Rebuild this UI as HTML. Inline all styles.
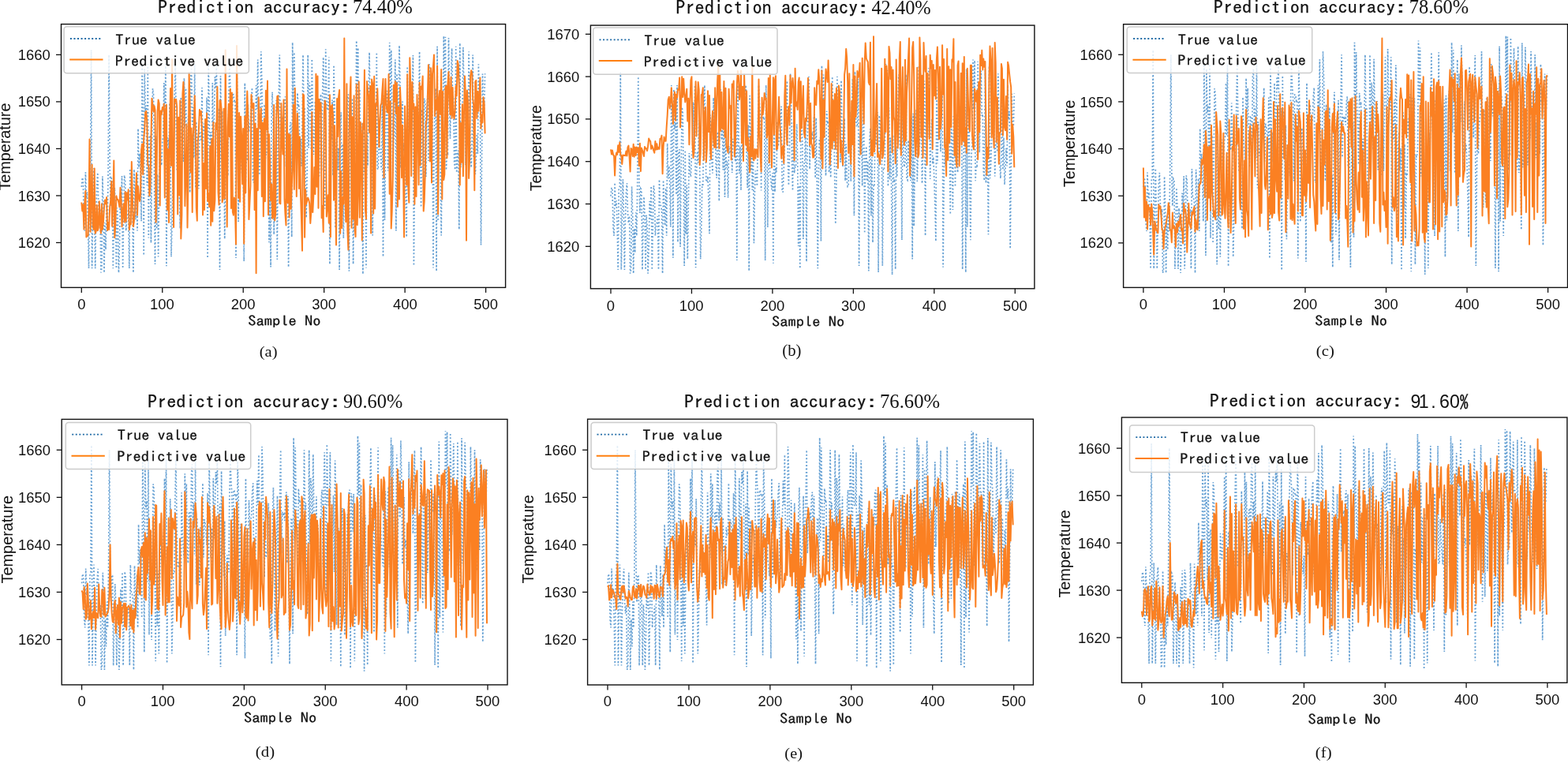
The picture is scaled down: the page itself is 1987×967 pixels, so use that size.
<!DOCTYPE html>
<html><head><meta charset="utf-8"><title>Prediction accuracy</title>
<style>html,body{margin:0;padding:0;background:#fff;overflow:hidden}svg{display:block}</style></head>
<body><svg width="1987" height="967" viewBox="0 0 1987 967">
<rect x="0" y="0" width="1987" height="967" fill="#fff"/>
<clipPath id="clipa"><rect x="77.5" y="30.6" width="563.1" height="333.79999999999995"/></clipPath>
<g clip-path="url(#clipa)">
<polyline points="103.3,236.9 104.3,225.0 105.3,228.6 106.4,282.0 107.4,292.6 108.4,218.3 109.4,251.5 110.5,243.3 111.5,282.9 112.5,340.2 113.5,226.9 114.6,224.8 115.6,63.4 116.6,340.2 117.6,270.7 118.7,213.3 119.7,265.4 120.7,340.2 121.7,271.0 122.8,232.0 123.8,218.7 124.8,260.3 125.8,274.8 126.9,264.5 127.9,345.6 128.9,340.2 129.9,223.4 131.0,263.5 132.0,345.6 133.0,282.3 134.0,316.3 135.1,259.9 136.1,292.6 137.1,214.9 138.1,69.4 139.2,215.7 140.2,260.7 141.2,226.2 142.2,228.0 143.3,340.2 144.3,278.2 145.3,237.8 146.3,261.8 147.4,340.2 148.4,263.4 149.4,279.0 150.4,345.6 151.5,308.1 152.5,244.2 153.5,268.9 154.5,222.9 155.6,340.2 156.6,281.7 157.6,222.2 158.6,229.2 159.7,292.6 160.7,277.2 161.7,274.6 162.7,265.0 163.8,340.2 164.8,213.7 165.8,249.6 166.8,250.5 167.8,257.0 168.9,345.6 169.9,214.7 170.9,248.1 171.9,278.3 173.0,225.8 174.0,292.6 175.0,163.0 176.0,212.5 177.1,194.5 178.1,221.1 179.1,280.3 180.1,81.3 181.2,148.6 182.2,323.6 183.2,87.3 184.2,142.7 185.3,133.4 186.3,235.0 187.3,81.3 188.3,301.5 189.4,177.1 190.4,171.3 191.4,308.0 192.4,200.9 193.5,112.1 194.5,119.4 195.5,216.9 196.5,334.9 197.6,172.6 198.6,290.4 199.6,221.2 200.6,325.4 201.7,241.3 202.7,176.6 203.7,203.3 204.7,209.8 205.8,178.8 206.8,172.7 207.8,105.1 208.8,171.8 209.9,81.3 210.9,337.3 211.9,207.9 212.9,174.2 214.0,190.4 215.0,130.5 216.0,193.9 217.0,325.4 218.1,281.4 219.1,220.2 220.1,223.3 221.1,130.0 222.2,81.3 223.2,156.0 224.2,216.7 225.2,217.0 226.3,209.3 227.3,244.8 228.3,289.6 229.3,123.0 230.4,176.2 231.4,192.2 232.4,204.9 233.4,99.1 234.4,161.0 235.5,111.7 236.5,192.2 237.5,211.8 238.5,147.6 239.6,146.7 240.6,244.0 241.6,98.9 242.6,87.3 243.7,158.1 244.7,136.1 245.7,200.4 246.7,81.3 247.8,238.3 248.8,154.2 249.8,197.5 250.8,188.5 251.9,239.3 252.9,166.7 253.9,176.5 254.9,176.9 256.0,111.1 257.0,204.4 258.0,156.6 259.0,161.7 260.1,170.6 261.1,188.9 262.1,123.5 263.1,327.1 264.2,81.3 265.2,144.3 266.2,205.2 267.2,167.4 268.3,228.7 269.3,105.1 270.3,180.4 271.3,152.3 272.4,97.2 273.4,112.1 274.4,81.3 275.4,189.5 276.5,225.2 277.5,137.1 278.5,342.0 279.5,95.9 280.6,201.6 281.6,140.8 282.6,228.5 283.6,158.5 284.7,302.9 285.7,232.0 286.7,201.4 287.7,210.5 288.8,223.0 289.8,130.1 290.8,81.3 291.8,109.3 292.9,125.2 293.9,229.2 294.9,120.2 295.9,119.8 296.9,127.6 298.0,126.5 299.0,327.1 300.0,81.3 301.0,131.1 302.1,280.9 303.1,182.9 304.1,162.1 305.1,205.4 306.2,214.3 307.2,227.8 308.2,204.5 309.2,331.3 310.3,105.1 311.3,231.1 312.3,197.0 313.3,203.7 314.4,132.5 315.4,167.2 316.4,157.4 317.4,152.2 318.5,122.9 319.5,111.1 320.5,228.3 321.5,231.6 322.6,197.7 323.6,161.8 324.6,108.1 325.6,138.4 326.7,75.4 327.7,186.1 328.7,221.9 329.7,183.8 330.8,65.2 331.8,102.1 332.8,189.0 333.8,229.3 334.9,132.2 335.9,204.8 336.9,196.0 337.9,196.4 339.0,136.0 340.0,190.4 341.0,307.3 342.0,221.9 343.1,338.5 344.1,151.7 345.1,116.5 346.1,162.6 347.2,297.1 348.2,191.6 349.2,189.6 350.2,127.0 351.3,328.9 352.3,161.1 353.3,123.9 354.3,69.4 355.4,199.2 356.4,147.0 357.4,151.9 358.4,149.9 359.5,158.3 360.5,128.8 361.5,122.3 362.5,211.4 363.5,127.3 364.6,217.8 365.6,338.5 366.6,207.5 367.6,156.2 368.7,154.9 369.7,300.4 370.7,53.9 371.7,183.7 372.8,66.4 373.8,135.3 374.8,162.7 375.8,208.4 376.9,117.7 377.9,133.3 378.9,131.7 379.9,204.1 381.0,175.8 382.0,210.9 383.0,155.5 384.0,69.4 385.1,144.7 386.1,135.9 387.1,218.8 388.1,276.0 389.2,216.7 390.2,69.4 391.2,187.5 392.2,104.6 393.3,118.0 394.3,189.8 395.3,74.8 396.3,146.0 397.4,196.0 398.4,167.0 399.4,127.9 400.4,215.4 401.5,163.9 402.5,215.8 403.5,223.7 404.5,222.7 405.6,130.4 406.6,119.3 407.6,216.4 408.6,122.1 409.7,72.4 410.7,125.9 411.7,264.4 412.7,62.3 413.8,124.7 414.8,139.9 415.8,137.5 416.8,72.4 417.9,334.9 418.9,149.2 419.9,177.4 420.9,126.4 422.0,222.5 423.0,82.5 424.0,132.0 425.0,289.0 426.0,187.7 427.1,167.2 428.1,216.0 429.1,187.5 430.1,342.0 431.2,160.3 432.2,142.4 433.2,264.3 434.2,182.4 435.3,302.1 436.3,220.7 437.3,222.2 438.3,150.4 439.4,165.4 440.4,121.6 441.4,119.5 442.4,343.8 443.5,123.9 444.5,132.7 445.5,171.9 446.5,124.5 447.6,334.9 448.6,198.1 449.6,199.4 450.6,185.9 451.7,51.5 452.7,126.4 453.7,60.5 454.7,223.3 455.8,112.8 456.8,213.5 457.8,155.2 458.8,214.1 459.9,347.4 460.9,151.1 461.9,217.9 462.9,213.2 464.0,339.6 465.0,167.6 466.0,209.9 467.0,124.0 468.1,66.4 469.1,150.9 470.1,172.4 471.1,159.8 472.2,298.6 473.2,126.1 474.2,182.3 475.2,196.2 476.3,189.4 477.3,66.4 478.3,213.5 479.3,214.8 480.4,158.7 481.4,186.4 482.4,199.6 483.4,215.5 484.5,126.5 485.5,325.4 486.5,121.0 487.5,279.0 488.5,196.6 489.6,123.1 490.6,115.2 491.6,216.6 492.6,180.1 493.7,53.9 494.7,167.8 495.7,63.4 496.7,134.5 497.8,219.3 498.8,179.3 499.8,170.5 500.8,75.4 501.9,292.6 502.9,93.3 503.9,119.6 504.9,154.3 506.0,57.5 507.0,106.5 508.0,213.0 509.0,157.6 510.1,128.6 511.1,192.0 512.1,182.2 513.1,212.4 514.2,252.0 515.2,300.4 516.2,84.3 517.2,191.3 518.3,144.4 519.3,103.2 520.3,115.3 521.3,174.5 522.4,119.3 523.4,70.0 524.4,336.7 525.4,223.3 526.5,141.2 527.5,194.9 528.5,157.0 529.5,147.1 530.6,140.1 531.6,65.2 532.6,179.9 533.6,262.6 534.7,138.8 535.7,155.0 536.7,256.2 537.7,124.6 538.8,130.3 539.8,223.9 540.8,142.7 541.8,121.2 542.9,203.9 543.9,81.3 544.9,138.8 545.9,147.4 547.0,124.5 548.0,149.9 549.0,339.6 550.0,192.7 551.1,138.6 552.1,112.0 553.1,343.8 554.1,58.7 555.1,280.1 556.2,120.8 557.2,123.9 558.2,223.6 559.2,298.6 560.3,178.3 561.3,164.5 562.3,45.6 563.3,115.3 564.4,46.8 565.4,215.6 566.4,193.4 567.4,194.6 568.5,48.0 569.5,116.4 570.5,175.8 571.5,108.7 572.6,61.1 573.6,124.4 574.6,122.0 575.6,204.7 576.7,215.2 577.7,58.7 578.7,218.9 579.7,199.2 580.8,190.6 581.8,290.8 582.8,54.5 583.8,212.1 584.9,194.9 585.9,157.7 586.9,59.9 587.9,111.0 589.0,119.1 590.0,209.3 591.0,168.5 592.0,154.4 593.1,175.1 594.1,65.2 595.1,137.2 596.1,185.7 597.2,212.3 598.2,177.4 599.2,69.4 600.2,200.1 601.3,155.0 602.3,221.0 603.3,201.3 604.3,169.7 605.4,194.9 606.4,81.3 607.4,130.2 608.4,118.0 609.5,310.7 610.5,206.4 611.5,93.4 612.5,141.5 613.6,137.3 614.6,93.2" fill="none" stroke="#3f88c8" stroke-opacity="0.8" stroke-width="1.7" stroke-dasharray="1.8 2.6" stroke-linecap="butt"/>
<polyline points="103.3,256.5 104.3,267.4 105.3,259.2 106.4,290.6 107.4,255.0 108.4,242.0 109.4,300.5 110.5,298.9 111.5,298.5 112.5,267.9 113.5,176.5 114.6,293.8 115.6,250.1 116.6,208.7 117.6,285.1 118.7,291.0 119.7,213.6 120.7,295.7 121.7,293.2 122.8,260.0 123.8,292.3 124.8,288.8 125.8,255.3 126.9,284.4 127.9,295.6 128.9,258.5 129.9,291.0 131.0,280.5 132.0,262.1 133.0,253.4 134.0,258.3 135.1,250.1 136.1,291.9 137.1,282.1 138.1,291.0 139.2,261.6 140.2,254.7 141.2,229.8 142.2,286.8 143.3,250.6 144.3,203.6 145.3,301.2 146.3,284.6 147.4,248.3 148.4,253.0 149.4,252.8 150.4,256.5 151.5,262.5 152.5,237.7 153.5,252.9 154.5,287.2 155.6,268.4 156.6,258.3 157.6,281.7 158.6,243.3 159.7,280.8 160.7,244.3 161.7,253.4 162.7,240.3 163.8,291.2 164.8,283.9 165.8,284.2 166.8,204.9 167.8,247.4 168.9,287.0 169.9,280.0 170.9,268.0 171.9,244.1 173.0,219.2 174.0,272.8 175.0,236.0 176.0,249.1 177.1,255.1 178.1,244.5 179.1,190.2 180.1,182.5 181.2,220.9 182.2,176.2 183.2,163.9 184.2,142.3 185.3,140.7 186.3,154.6 187.3,208.8 188.3,210.9 189.4,248.0 190.4,235.0 191.4,179.4 192.4,124.8 193.5,132.7 194.5,141.3 195.5,134.2 196.5,139.5 197.6,281.8 198.6,214.8 199.6,141.8 200.6,126.4 201.7,130.9 202.7,260.4 203.7,140.5 204.7,145.3 205.8,136.1 206.8,138.9 207.8,131.7 208.8,250.5 209.9,139.2 210.9,132.8 211.9,266.1 212.9,188.9 214.0,282.0 215.0,178.7 216.0,111.9 217.0,210.0 218.1,75.3 219.1,226.9 220.1,288.1 221.1,125.5 222.2,128.7 223.2,125.9 224.2,135.8 225.2,271.6 226.3,148.7 227.3,247.6 228.3,127.4 229.3,302.4 230.4,272.0 231.4,118.8 232.4,103.9 233.4,128.7 234.4,261.1 235.5,221.7 236.5,157.5 237.5,288.6 238.5,229.1 239.6,91.9 240.6,130.1 241.6,218.3 242.6,162.5 243.7,269.0 244.7,171.7 245.7,156.9 246.7,121.3 247.8,168.2 248.8,263.5 249.8,279.8 250.8,179.5 251.9,164.3 252.9,139.0 253.9,145.9 254.9,141.0 256.0,168.3 257.0,272.6 258.0,207.1 259.0,266.0 260.1,150.9 261.1,238.9 262.1,143.5 263.1,254.9 264.2,245.3 265.2,262.3 266.2,185.3 267.2,285.8 268.3,176.1 269.3,280.8 270.3,154.9 271.3,267.2 272.4,253.5 273.4,156.0 274.4,164.0 275.4,109.9 276.5,243.9 277.5,259.6 278.5,127.3 279.5,127.4 280.6,137.9 281.6,256.4 282.6,251.4 283.6,137.7 284.7,251.7 285.7,63.4 286.7,188.8 287.7,287.4 288.8,161.4 289.8,131.7 290.8,173.2 291.8,112.8 292.9,264.1 293.9,117.5 294.9,268.8 295.9,272.7 296.9,250.4 298.0,266.6 299.0,309.6 300.0,58.0 301.0,159.8 302.1,251.0 303.1,143.1 304.1,255.7 305.1,147.7 306.2,174.1 307.2,233.2 308.2,163.1 309.2,308.7 310.3,147.6 311.3,244.5 312.3,144.4 313.3,115.5 314.4,150.8 315.4,278.1 316.4,257.2 317.4,235.5 318.5,120.1 319.5,132.5 320.5,137.4 321.5,130.9 322.6,266.0 323.6,156.7 324.6,346.2 325.6,162.9 326.7,241.3 327.7,123.4 328.7,158.3 329.7,163.1 330.8,137.2 331.8,249.1 332.8,155.4 333.8,274.3 334.9,150.3 335.9,255.3 336.9,114.8 337.9,163.9 339.0,102.5 340.0,272.3 341.0,170.3 342.0,203.6 343.1,254.2 344.1,233.4 345.1,276.7 346.1,275.7 347.2,133.0 348.2,279.4 349.2,271.4 350.2,152.4 351.3,122.0 352.3,121.4 353.3,165.6 354.3,257.2 355.4,258.3 356.4,131.1 357.4,177.0 358.4,195.6 359.5,126.5 360.5,252.4 361.5,271.6 362.5,285.4 363.5,87.5 364.6,256.9 365.6,169.6 366.6,275.6 367.6,170.4 368.7,264.8 369.7,237.3 370.7,211.0 371.7,132.9 372.8,239.9 373.8,111.8 374.8,169.3 375.8,248.9 376.9,143.7 377.9,171.9 378.9,238.9 379.9,173.3 381.0,245.7 382.0,279.0 383.0,317.8 384.0,119.3 385.1,121.1 386.1,300.7 387.1,240.7 388.1,258.8 389.2,254.0 390.2,250.6 391.2,253.1 392.2,257.7 393.3,283.0 394.3,268.6 395.3,142.0 396.3,269.0 397.4,246.5 398.4,212.0 399.4,246.0 400.4,93.7 401.5,236.7 402.5,96.4 403.5,263.8 404.5,125.8 405.6,140.4 406.6,130.6 407.6,276.3 408.6,261.0 409.7,293.9 410.7,144.9 411.7,127.4 412.7,132.1 413.8,274.5 414.8,261.7 415.8,247.3 416.8,282.8 417.9,120.3 418.9,300.3 419.9,134.7 420.9,132.7 422.0,146.0 423.0,253.8 424.0,159.2 425.0,234.9 426.0,310.5 427.1,125.0 428.1,173.0 429.1,122.5 430.1,114.1 431.2,295.8 432.2,217.2 433.2,289.1 434.2,250.2 435.3,258.4 436.3,48.6 437.3,250.0 438.3,281.3 439.4,106.3 440.4,293.1 441.4,316.6 442.4,177.0 443.5,122.1 444.5,97.6 445.5,288.7 446.5,148.2 447.6,277.7 448.6,121.3 449.6,291.2 450.6,300.1 451.7,106.8 452.7,285.1 453.7,245.8 454.7,103.5 455.8,275.8 456.8,154.9 457.8,170.5 458.8,304.5 459.9,156.5 460.9,162.9 461.9,88.8 462.9,265.2 464.0,277.5 465.0,103.1 466.0,114.3 467.0,121.5 468.1,168.0 469.1,109.0 470.1,295.4 471.1,100.5 472.2,106.7 473.2,270.5 474.2,96.8 475.2,264.6 476.3,131.2 477.3,133.0 478.3,112.3 479.3,146.7 480.4,186.2 481.4,155.8 482.4,133.3 483.4,131.2 484.5,113.2 485.5,100.1 486.5,225.3 487.5,134.9 488.5,99.9 489.6,133.5 490.6,141.8 491.6,142.6 492.6,93.9 493.7,245.8 494.7,128.6 495.7,289.5 496.7,268.8 497.8,224.3 498.8,107.8 499.8,129.1 500.8,103.0 501.9,144.1 502.9,105.1 503.9,262.0 504.9,135.8 506.0,252.5 507.0,110.7 508.0,134.6 509.0,225.2 510.1,158.8 511.1,227.1 512.1,300.6 513.1,134.6 514.2,191.0 515.2,234.3 516.2,94.3 517.2,235.4 518.3,256.8 519.3,73.2 520.3,108.6 521.3,223.0 522.4,104.1 523.4,138.4 524.4,131.5 525.4,258.8 526.5,135.5 527.5,249.0 528.5,120.0 529.5,153.8 530.6,234.3 531.6,104.7 532.6,209.4 533.6,109.4 534.7,113.0 535.7,96.4 536.7,267.6 537.7,254.9 538.8,220.0 539.8,157.4 540.8,150.1 541.8,125.3 542.9,82.3 543.9,113.8 544.9,204.4 545.9,86.2 547.0,231.4 548.0,93.9 549.0,83.0 550.0,69.5 551.1,147.1 552.1,126.8 553.1,139.0 554.1,83.4 555.1,271.2 556.2,124.7 557.2,115.1 558.2,145.0 559.2,88.0 560.3,252.6 561.3,116.1 562.3,227.9 563.3,221.2 564.4,111.1 565.4,108.7 566.4,200.3 567.4,107.0 568.5,91.1 569.5,126.0 570.5,145.2 571.5,97.7 572.6,149.8 573.6,110.9 574.6,146.6 575.6,150.6 576.7,139.1 577.7,108.9 578.7,121.5 579.7,77.0 580.8,81.5 581.8,110.5 582.8,234.6 583.8,156.0 584.9,205.7 585.9,132.3 586.9,223.3 587.9,147.5 589.0,96.6 590.0,122.1 591.0,304.7 592.0,114.6 593.1,129.7 594.1,225.9 595.1,201.6 596.1,96.2 597.2,89.3 598.2,93.0 599.2,125.2 600.2,133.0 601.3,241.2 602.3,103.6 603.3,101.9 604.3,149.9 605.4,115.9 606.4,140.8 607.4,122.5 608.4,98.4 609.5,162.8 610.5,145.6 611.5,155.3 612.5,123.3 613.6,130.3 614.6,169.4" fill="none" stroke="#fb8022" stroke-width="2.0" stroke-linejoin="round"/>
</g>
<rect x="77.5" y="30.6" width="563.1" height="333.79999999999995" fill="none" stroke="#111" stroke-width="1.4"/>
<line x1="103.30" y1="364.4" x2="103.30" y2="370.90" stroke="#111" stroke-width="1.3"/>
<text x="98.14" y="391.70" font-family="'Liberation Sans',sans-serif" font-size="19.00" textLength="10.25" lengthAdjust="spacingAndGlyphs" fill="#111">0</text>
<line x1="205.76" y1="364.4" x2="205.76" y2="370.90" stroke="#111" stroke-width="1.3"/>
<text x="190.00" y="391.70" font-family="'Liberation Sans',sans-serif" font-size="19.00" textLength="30.75" lengthAdjust="spacingAndGlyphs" fill="#111">100</text>
<line x1="308.22" y1="364.4" x2="308.22" y2="370.90" stroke="#111" stroke-width="1.3"/>
<text x="292.74" y="391.70" font-family="'Liberation Sans',sans-serif" font-size="19.00" textLength="30.75" lengthAdjust="spacingAndGlyphs" fill="#111">200</text>
<line x1="410.68" y1="364.4" x2="410.68" y2="370.90" stroke="#111" stroke-width="1.3"/>
<text x="395.29" y="391.70" font-family="'Liberation Sans',sans-serif" font-size="19.00" textLength="30.75" lengthAdjust="spacingAndGlyphs" fill="#111">300</text>
<line x1="513.14" y1="364.4" x2="513.14" y2="370.90" stroke="#111" stroke-width="1.3"/>
<text x="497.94" y="391.70" font-family="'Liberation Sans',sans-serif" font-size="19.00" textLength="30.75" lengthAdjust="spacingAndGlyphs" fill="#111">400</text>
<line x1="615.60" y1="364.4" x2="615.60" y2="370.90" stroke="#111" stroke-width="1.3"/>
<text x="600.21" y="391.70" font-family="'Liberation Sans',sans-serif" font-size="19.00" textLength="30.75" lengthAdjust="spacingAndGlyphs" fill="#111">500</text>
<line x1="71.00" y1="307.50" x2="77.5" y2="307.50" stroke="#111" stroke-width="1.3"/>
<text x="22.72" y="314.06" font-family="'Liberation Sans',sans-serif" font-size="19.00" textLength="41.00" lengthAdjust="spacingAndGlyphs" fill="#111">1620</text>
<line x1="71.00" y1="247.97" x2="77.5" y2="247.97" stroke="#111" stroke-width="1.3"/>
<text x="22.72" y="254.53" font-family="'Liberation Sans',sans-serif" font-size="19.00" textLength="41.00" lengthAdjust="spacingAndGlyphs" fill="#111">1630</text>
<line x1="71.00" y1="188.45" x2="77.5" y2="188.45" stroke="#111" stroke-width="1.3"/>
<text x="22.72" y="195.00" font-family="'Liberation Sans',sans-serif" font-size="19.00" textLength="41.00" lengthAdjust="spacingAndGlyphs" fill="#111">1640</text>
<line x1="71.00" y1="128.93" x2="77.5" y2="128.93" stroke="#111" stroke-width="1.3"/>
<text x="22.72" y="135.48" font-family="'Liberation Sans',sans-serif" font-size="19.00" textLength="41.00" lengthAdjust="spacingAndGlyphs" fill="#111">1650</text>
<line x1="71.00" y1="69.40" x2="77.5" y2="69.40" stroke="#111" stroke-width="1.3"/>
<text x="22.72" y="75.96" font-family="'Liberation Sans',sans-serif" font-size="19.00" textLength="41.00" lengthAdjust="spacingAndGlyphs" fill="#111">1660</text>
<rect x="81.1" y="33.7" width="234.29999999999998" height="59.099999999999994" rx="3.5" ry="3.5" fill="#fff" fill-opacity="0.8" stroke="#cccccc" stroke-width="1.5"/>
<line x1="88.90" y1="49" x2="128.10" y2="49" stroke="#1f6aa5" stroke-width="1.8" stroke-dasharray="2 2.55"/>
<line x1="88.20" y1="75.6" x2="130.50" y2="75.6" stroke="#ff7f0e" stroke-width="2"/>
<text x="146.39" y="57.00" font-family="'IPAGothic','Noto Sans CJK JP',sans-serif" font-size="18.00" textLength="101.43" lengthAdjust="spacingAndGlyphs" fill="#111" stroke="#111" stroke-width="0.25">True value</text>
<text x="145.78" y="83.50" font-family="'IPAGothic','Noto Sans CJK JP',sans-serif" font-size="18.00" textLength="162.74" lengthAdjust="spacingAndGlyphs" fill="#111" stroke="#111" stroke-width="0.25">Predictive value</text>
<text x="199.90" y="16.90" font-family="'IPAGothic','Noto Sans CJK JP',sans-serif" font-size="22.50" textLength="231.02" lengthAdjust="spacingAndGlyphs" fill="#111" stroke="#111" stroke-width="0.25">Prediction accuracy</text>
<text x="422.20" y="16.90" font-family="'IPAGothic','Noto Sans CJK JP',sans-serif" font-size="22.50" textLength="30.00" lengthAdjust="spacingAndGlyphs" fill="#111" stroke="#111" stroke-width="0.25">：</text>
<text x="446.98" y="16.60" font-family="'Liberation Serif',serif" font-size="24.80" textLength="75.84" lengthAdjust="spacingAndGlyphs" fill="#111">74.40%</text>
<text x="314.38" y="412.80" font-family="'IPAGothic','Noto Sans CJK JP',sans-serif" font-size="17.60" textLength="92.05" lengthAdjust="spacingAndGlyphs" fill="#111" stroke="#111" stroke-width="0.25">Sample No</text>
<text transform="translate(13.20,241.60) rotate(-90)" x="0" y="0" font-family="'Liberation Sans',sans-serif" font-size="19.50" textLength="111.06" lengthAdjust="spacingAndGlyphs" fill="#111">Temperature</text>
<text x="328.78" y="451.60" font-family="'Liberation Serif',serif" font-size="19.70" textLength="22.74" lengthAdjust="spacingAndGlyphs" fill="#111">(a)</text>
<clipPath id="clipb"><rect x="748.4" y="32.1" width="562.5000000000001" height="333.7"/></clipPath>
<g clip-path="url(#clipb)">
<polyline points="774.0,248.5 775.0,237.7 776.0,241.0 777.1,289.2 778.1,298.8 779.1,231.6 780.1,261.7 781.2,254.3 782.2,290.1 783.2,341.9 784.2,239.4 785.3,237.6 786.3,91.7 787.3,341.9 788.3,279.0 789.4,227.2 790.4,274.2 791.4,341.9 792.4,279.3 793.5,244.0 794.5,232.0 795.5,269.6 796.5,282.7 797.6,273.5 798.6,346.7 799.6,341.9 800.6,236.3 801.7,272.5 802.7,346.7 803.7,289.5 804.7,320.3 805.8,269.3 806.8,298.8 807.8,228.6 808.8,97.1 809.9,229.4 810.9,270.0 811.9,238.9 812.9,240.5 814.0,341.9 815.0,285.8 816.0,249.3 817.0,271.0 818.1,341.9 819.1,272.5 820.1,286.5 821.1,346.7 822.2,312.8 823.2,255.1 824.2,277.4 825.2,235.9 826.3,341.9 827.3,289.0 828.3,235.2 829.3,241.5 830.4,298.8 831.4,284.9 832.4,282.5 833.4,273.9 834.5,341.9 835.5,227.5 836.5,259.9 837.5,260.8 838.5,266.7 839.6,346.7 840.6,228.4 841.6,258.6 842.6,285.9 843.7,238.5 844.7,298.8 845.7,181.7 846.7,226.5 847.8,210.2 848.8,234.2 849.8,287.7 850.8,107.9 851.9,168.7 852.9,326.8 853.9,113.2 854.9,163.3 856.0,155.0 857.0,246.8 858.0,107.9 859.0,306.9 860.1,194.5 861.1,189.2 862.1,312.7 863.1,215.9 864.2,135.7 865.2,142.3 866.2,230.4 867.2,337.0 868.3,190.4 869.3,296.9 870.3,234.3 871.3,328.4 872.4,252.5 873.4,194.0 874.4,218.1 875.4,224.0 876.5,196.0 877.5,190.5 878.5,129.4 879.5,189.6 880.6,107.9 881.6,339.2 882.6,222.3 883.6,191.8 884.7,206.4 885.7,152.3 886.7,209.6 887.7,328.4 888.8,288.7 889.8,233.4 890.8,236.2 891.8,151.9 892.9,107.9 893.9,175.3 894.9,230.2 895.9,230.5 897.0,223.5 898.0,255.6 899.0,296.2 900.0,145.5 901.1,193.6 902.1,208.1 903.1,219.6 904.1,123.9 905.1,179.9 906.2,135.3 907.2,208.1 908.2,225.8 909.2,167.8 910.3,167.0 911.3,254.9 912.3,123.7 913.3,113.2 914.4,177.3 915.4,157.4 916.4,215.5 917.4,107.9 918.5,249.7 919.5,173.8 920.5,212.9 921.5,204.8 922.6,250.7 923.6,185.0 924.6,193.9 925.6,194.2 926.7,134.8 927.7,219.1 928.7,175.9 929.7,180.5 930.8,188.6 931.8,205.1 932.8,146.0 933.8,330.1 934.9,107.9 935.9,164.8 936.9,219.9 937.9,185.6 939.0,241.1 940.0,129.4 941.0,197.4 942.0,172.1 943.1,122.2 944.1,135.7 945.1,107.9 946.1,205.7 947.2,237.9 948.2,158.3 949.2,343.5 950.2,121.1 951.3,216.6 952.3,161.7 953.3,240.9 954.3,177.6 955.4,308.2 956.4,244.0 957.4,216.4 958.4,224.6 959.5,235.9 960.5,152.0 961.5,107.9 962.5,133.2 963.6,147.5 964.6,241.5 965.6,143.0 966.6,142.7 967.6,149.7 968.7,148.7 969.7,330.1 970.7,107.9 971.7,152.9 972.8,288.2 973.8,199.7 974.8,180.9 975.8,220.1 976.9,228.0 977.9,240.3 978.9,219.2 979.9,333.8 981.0,129.4 982.0,243.2 983.0,212.4 984.0,218.5 985.1,154.1 986.1,185.5 987.1,176.6 988.1,171.9 989.2,145.4 990.2,134.8 991.2,240.7 992.2,243.7 993.3,213.0 994.3,180.6 995.3,132.0 996.3,159.4 997.4,102.5 998.4,202.6 999.4,234.9 1000.4,200.5 1001.5,93.3 1002.5,126.6 1003.5,205.2 1004.5,241.6 1005.6,153.9 1006.6,219.5 1007.6,211.5 1008.6,211.9 1009.7,157.3 1010.7,206.5 1011.7,312.1 1012.7,234.9 1013.8,340.3 1014.8,171.5 1015.8,139.6 1016.8,181.3 1017.9,302.9 1018.9,207.6 1019.9,205.7 1020.9,149.2 1022.0,331.7 1023.0,180.0 1024.0,146.3 1025.0,97.1 1026.1,214.4 1027.1,167.3 1028.1,171.7 1029.1,169.8 1030.2,177.5 1031.2,150.8 1032.2,144.9 1033.2,225.5 1034.2,149.4 1035.3,231.2 1036.3,340.3 1037.3,221.9 1038.3,175.6 1039.4,174.4 1040.4,305.8 1041.4,83.1 1042.4,200.4 1043.5,94.4 1044.5,156.7 1045.5,181.4 1046.5,222.8 1047.6,140.8 1048.6,154.8 1049.6,153.4 1050.6,218.8 1051.7,193.3 1052.7,225.0 1053.7,174.9 1054.7,97.1 1055.8,165.2 1056.8,157.2 1057.8,232.1 1058.8,283.8 1059.9,230.2 1060.9,97.1 1061.9,203.9 1062.9,129.0 1064.0,141.0 1065.0,205.9 1066.0,101.9 1067.0,166.3 1068.1,211.5 1069.1,185.4 1070.1,150.0 1071.1,229.1 1072.2,182.5 1073.2,229.4 1074.2,236.6 1075.2,235.7 1076.3,152.3 1077.3,142.2 1078.3,230.0 1079.3,144.8 1080.4,99.8 1081.4,148.2 1082.4,273.4 1083.4,90.6 1084.5,147.1 1085.5,160.8 1086.5,158.6 1087.5,99.8 1088.6,337.0 1089.6,169.2 1090.6,194.7 1091.6,148.6 1092.7,235.5 1093.7,108.9 1094.7,153.7 1095.7,295.6 1096.7,204.0 1097.8,185.5 1098.8,229.6 1099.8,203.8 1100.8,343.5 1101.9,179.3 1102.9,163.1 1103.9,273.3 1104.9,199.2 1106.0,307.5 1107.0,233.9 1108.0,235.2 1109.0,170.3 1110.1,183.9 1111.1,144.2 1112.1,142.3 1113.1,345.1 1114.2,146.3 1115.2,154.3 1116.2,189.7 1117.2,146.9 1118.3,337.0 1119.3,213.4 1120.3,214.6 1121.3,202.4 1122.4,81.0 1123.4,148.6 1124.4,89.0 1125.4,236.2 1126.5,136.3 1127.5,227.3 1128.5,174.6 1129.5,227.8 1130.6,348.3 1131.6,170.9 1132.6,231.3 1133.6,227.0 1134.7,341.4 1135.7,185.8 1136.7,224.1 1137.7,146.5 1138.8,94.4 1139.8,170.7 1140.8,190.2 1141.8,178.8 1142.9,304.2 1143.9,148.3 1144.9,199.1 1145.9,211.7 1147.0,205.6 1148.0,94.4 1149.0,227.4 1150.0,228.5 1151.1,177.8 1152.1,202.9 1153.1,214.8 1154.1,229.1 1155.2,148.7 1156.2,328.4 1157.2,143.7 1158.2,286.6 1159.2,212.1 1160.3,145.6 1161.3,138.5 1162.3,230.1 1163.3,197.1 1164.4,83.1 1165.4,186.0 1166.4,91.7 1167.4,156.0 1168.5,232.6 1169.5,196.5 1170.5,188.5 1171.5,102.5 1172.6,298.8 1173.6,118.7 1174.6,142.4 1175.6,173.9 1176.7,86.3 1177.7,130.6 1178.7,226.9 1179.7,176.8 1180.8,150.6 1181.8,207.9 1182.8,199.1 1183.8,226.4 1184.9,262.1 1185.9,305.8 1186.9,110.5 1187.9,207.3 1189.0,164.9 1190.0,127.6 1191.0,138.6 1192.0,192.1 1193.1,142.2 1194.1,97.6 1195.1,338.7 1196.1,236.2 1197.2,162.0 1198.2,210.5 1199.2,176.2 1200.2,167.3 1201.3,161.0 1202.3,93.3 1203.3,197.0 1204.3,271.7 1205.4,159.8 1206.4,174.4 1207.4,266.0 1208.4,147.0 1209.5,152.2 1210.5,236.7 1211.5,163.3 1212.5,143.9 1213.6,218.7 1214.6,107.9 1215.6,159.8 1216.6,167.6 1217.7,146.9 1218.7,169.8 1219.7,341.4 1220.7,208.5 1221.8,159.6 1222.8,135.6 1223.8,345.1 1224.8,87.4 1225.8,287.6 1226.9,143.6 1227.9,146.3 1228.9,236.4 1229.9,304.2 1231.0,195.5 1232.0,183.0 1233.0,75.6 1234.0,138.5 1235.1,76.7 1236.1,229.2 1237.1,209.2 1238.1,210.2 1239.2,77.7 1240.2,139.6 1241.2,193.3 1242.2,132.6 1243.3,89.6 1244.3,146.8 1245.3,144.6 1246.3,219.4 1247.4,228.9 1248.4,87.4 1249.4,232.2 1250.4,214.4 1251.5,206.6 1252.5,297.2 1253.5,83.7 1254.5,226.1 1255.6,210.6 1256.6,176.9 1257.6,88.5 1258.6,134.7 1259.7,142.0 1260.7,223.5 1261.7,186.7 1262.7,173.9 1263.8,192.6 1264.8,93.3 1265.8,158.4 1266.8,202.2 1267.9,226.2 1268.9,194.7 1269.9,97.1 1270.9,215.2 1272.0,174.5 1273.0,234.1 1274.0,216.3 1275.0,187.8 1276.1,210.5 1277.1,107.9 1278.1,152.0 1279.1,141.0 1280.2,315.2 1281.2,220.9 1282.2,118.8 1283.2,162.3 1284.3,158.5 1285.3,118.6" fill="none" stroke="#3f88c8" stroke-opacity="0.8" stroke-width="1.7" stroke-dasharray="1.8 2.6" stroke-linecap="butt"/>
<polyline points="774.0,189.4 775.0,195.5 776.0,190.6 777.1,196.3 778.1,197.5 779.1,222.4 780.1,199.0 781.2,193.4 782.2,196.0 783.2,184.3 784.2,192.8 785.3,180.5 786.3,195.7 787.3,197.1 788.3,208.0 789.4,196.5 790.4,197.0 791.4,197.1 792.4,197.3 793.5,191.5 794.5,197.6 795.5,186.7 796.5,184.6 797.6,198.7 798.6,217.5 799.6,187.9 800.6,189.6 801.7,197.9 802.7,182.8 803.7,198.7 804.7,186.5 805.8,196.9 806.8,186.4 807.8,192.9 808.8,187.6 809.9,210.2 810.9,181.8 811.9,216.9 812.9,187.6 814.0,190.5 815.0,193.9 816.0,198.1 817.0,185.9 818.1,188.0 819.1,188.4 820.1,191.1 821.1,185.4 822.2,175.6 823.2,177.8 824.2,179.2 825.2,188.8 826.3,184.5 827.3,187.4 828.3,190.9 829.3,193.7 830.4,179.1 831.4,189.7 832.4,182.3 833.4,189.3 834.5,186.7 835.5,188.8 836.5,175.7 837.5,176.1 838.5,171.7 839.6,220.3 840.6,186.7 841.6,173.6 842.6,178.8 843.7,178.7 844.7,160.8 845.7,146.1 846.7,126.5 847.8,122.7 848.8,137.5 849.8,129.4 850.8,111.3 851.9,130.3 852.9,157.0 853.9,136.4 854.9,116.6 856.0,152.7 857.0,119.4 858.0,123.7 859.0,113.3 860.1,113.8 861.1,98.5 862.1,161.4 863.1,134.3 864.2,97.2 865.2,122.9 866.2,99.8 867.2,117.9 868.3,129.4 869.3,121.3 870.3,112.7 871.3,153.6 872.4,124.7 873.4,183.3 874.4,129.1 875.4,101.8 876.5,97.3 877.5,182.0 878.5,200.0 879.5,192.3 880.6,136.0 881.6,103.3 882.6,172.4 883.6,132.8 884.7,104.0 885.7,113.6 886.7,208.9 887.7,194.3 888.8,119.9 889.8,119.0 890.8,111.2 891.8,202.9 892.9,145.3 893.9,136.0 894.9,205.2 895.9,187.3 897.0,115.2 898.0,167.0 899.0,121.1 900.0,187.7 901.1,201.6 902.1,154.5 903.1,140.8 904.1,176.2 905.1,186.8 906.2,111.2 907.2,187.7 908.2,134.0 909.2,101.4 910.3,83.3 911.3,187.9 912.3,95.0 913.3,165.7 914.4,116.7 915.4,161.8 916.4,163.8 917.4,102.9 918.5,173.7 919.5,111.7 920.5,185.0 921.5,188.7 922.6,193.5 923.6,112.7 924.6,137.1 925.6,134.0 926.7,202.4 927.7,106.4 928.7,110.8 929.7,102.5 930.8,198.4 931.8,183.7 932.8,133.6 933.8,107.9 934.9,89.9 935.9,97.4 936.9,126.2 937.9,117.2 939.0,89.5 940.0,181.3 941.0,109.7 942.0,204.1 943.1,94.0 944.1,131.6 945.1,183.7 946.1,115.3 947.2,191.2 948.2,174.5 949.2,196.5 950.2,218.5 951.3,173.1 952.3,198.2 953.3,82.5 954.3,200.9 955.4,203.2 956.4,189.1 957.4,200.7 958.4,189.2 959.5,191.3 960.5,199.2 961.5,100.4 962.5,164.4 963.6,195.5 964.6,217.5 965.6,123.7 966.6,145.2 967.6,138.0 968.7,117.9 969.7,126.1 970.7,124.6 971.7,174.8 972.8,169.0 973.8,99.0 974.8,206.3 975.8,93.7 976.9,167.2 977.9,212.5 978.9,148.4 979.9,98.2 981.0,170.4 982.0,101.1 983.0,96.3 984.0,189.5 985.1,188.7 986.1,154.7 987.1,122.7 988.1,156.8 989.2,169.7 990.2,200.8 991.2,188.5 992.2,184.9 993.3,206.7 994.3,121.2 995.3,95.7 996.3,160.0 997.4,183.4 998.4,140.4 999.4,135.0 1000.4,158.8 1001.5,95.4 1002.5,130.4 1003.5,107.6 1004.5,99.1 1005.6,113.0 1006.6,203.2 1007.6,86.7 1008.6,134.5 1009.7,129.6 1010.7,139.0 1011.7,103.8 1012.7,98.5 1013.8,179.0 1014.8,103.2 1015.8,162.4 1016.8,134.7 1017.9,108.7 1018.9,167.7 1019.9,174.3 1020.9,150.0 1022.0,153.6 1023.0,127.7 1024.0,98.9 1025.0,133.3 1026.1,183.9 1027.1,130.7 1028.1,181.4 1029.1,184.4 1030.2,199.7 1031.2,199.2 1032.2,111.3 1033.2,132.0 1034.2,133.1 1035.3,102.7 1036.3,106.6 1037.3,88.3 1038.3,101.6 1039.4,140.7 1040.4,201.2 1041.4,89.4 1042.4,213.5 1043.5,126.8 1044.5,173.7 1045.5,116.4 1046.5,87.5 1047.6,94.8 1048.6,103.9 1049.6,76.5 1050.6,105.4 1051.7,208.6 1052.7,182.0 1053.7,106.1 1054.7,188.4 1055.8,127.2 1056.8,178.2 1057.8,119.1 1058.8,189.0 1059.9,111.7 1060.9,130.5 1061.9,213.1 1062.9,108.6 1064.0,116.3 1065.0,193.4 1066.0,177.9 1067.0,198.9 1068.1,209.0 1069.1,169.4 1070.1,94.5 1071.1,86.7 1072.2,61.9 1073.2,73.9 1074.2,104.5 1075.2,193.9 1076.3,93.2 1077.3,190.5 1078.3,207.7 1079.3,128.0 1080.4,183.1 1081.4,81.9 1082.4,223.4 1083.4,96.5 1084.5,148.2 1085.5,130.7 1086.5,90.0 1087.5,98.1 1088.6,94.2 1089.6,79.8 1090.6,195.6 1091.6,137.1 1092.7,73.7 1093.7,117.1 1094.7,156.8 1095.7,79.9 1096.7,54.6 1097.8,74.0 1098.8,76.8 1099.8,78.6 1100.8,104.4 1101.9,107.3 1102.9,53.8 1103.9,197.0 1104.9,178.2 1106.0,197.4 1107.0,46.3 1108.0,192.2 1109.0,173.5 1110.1,142.4 1111.1,106.1 1112.1,198.9 1113.1,194.1 1114.2,199.6 1115.2,208.1 1116.2,187.5 1117.2,86.7 1118.3,200.5 1119.3,195.6 1120.3,176.5 1121.3,74.7 1122.4,167.3 1123.4,83.5 1124.4,101.9 1125.4,217.3 1126.5,58.9 1127.5,67.2 1128.5,100.3 1129.5,85.0 1130.6,193.2 1131.6,88.6 1132.6,147.9 1133.6,153.5 1134.7,207.3 1135.7,75.6 1136.7,154.9 1137.7,187.6 1138.8,155.8 1139.8,73.9 1140.8,53.1 1141.8,196.8 1142.9,124.6 1143.9,84.9 1144.9,171.3 1145.9,184.0 1147.0,75.8 1148.0,178.3 1149.0,118.2 1150.0,100.2 1151.1,71.8 1152.1,48.6 1153.1,222.8 1154.1,190.8 1155.2,117.9 1156.2,60.4 1157.2,53.1 1158.2,96.5 1159.2,179.0 1160.3,198.2 1161.3,175.0 1162.3,85.8 1163.3,199.5 1164.4,195.2 1165.4,47.5 1166.4,76.2 1167.4,173.7 1168.5,95.8 1169.5,199.9 1170.5,54.1 1171.5,79.0 1172.6,90.7 1173.6,71.0 1174.6,209.1 1175.6,93.1 1176.7,130.1 1177.7,176.1 1178.7,69.7 1179.7,86.6 1180.8,77.1 1181.8,189.3 1182.8,82.1 1183.8,121.2 1184.9,88.9 1185.9,125.5 1186.9,74.8 1187.9,59.5 1189.0,96.8 1190.0,176.5 1191.0,84.8 1192.0,163.3 1193.1,143.6 1194.1,57.2 1195.1,119.4 1196.1,75.1 1197.2,187.3 1198.2,183.9 1199.2,222.9 1200.2,61.9 1201.3,203.1 1202.3,84.3 1203.3,181.1 1204.3,88.2 1205.4,161.0 1206.4,75.4 1207.4,78.3 1208.4,49.2 1209.5,197.1 1210.5,104.1 1211.5,203.4 1212.5,211.5 1213.6,82.8 1214.6,77.4 1215.6,210.5 1216.6,165.7 1217.7,92.7 1218.7,183.4 1219.7,80.3 1220.7,178.8 1221.8,72.0 1222.8,185.1 1223.8,162.0 1224.8,193.7 1225.8,86.8 1226.9,126.7 1227.9,160.6 1228.9,166.4 1229.9,82.8 1231.0,82.7 1232.0,170.7 1233.0,184.9 1234.0,189.4 1235.1,112.6 1236.1,119.7 1237.1,128.8 1238.1,114.4 1239.2,201.9 1240.2,103.9 1241.2,167.3 1242.2,69.7 1243.3,83.1 1244.3,63.7 1245.3,88.4 1246.3,74.6 1247.4,84.8 1248.4,78.0 1249.4,151.4 1250.4,221.7 1251.5,187.0 1252.5,200.7 1253.5,97.7 1254.5,58.6 1255.6,77.8 1256.6,174.4 1257.6,61.0 1258.6,168.0 1259.7,187.1 1260.7,53.9 1261.7,79.9 1262.7,180.0 1263.8,123.6 1264.8,158.3 1265.8,207.8 1266.8,168.9 1267.9,166.9 1268.9,80.9 1269.9,86.9 1270.9,171.4 1272.0,100.8 1273.0,161.2 1274.0,165.2 1275.0,122.0 1276.1,176.8 1277.1,78.8 1278.1,83.0 1279.1,93.6 1280.2,103.9 1281.2,110.4 1282.2,194.7 1283.2,157.8 1284.3,173.4 1285.3,212.3" fill="none" stroke="#fb8022" stroke-width="2.0" stroke-linejoin="round"/>
</g>
<rect x="748.4" y="32.1" width="562.5000000000001" height="333.7" fill="none" stroke="#111" stroke-width="1.4"/>
<line x1="774.00" y1="365.8" x2="774.00" y2="372.30" stroke="#111" stroke-width="1.3"/>
<text x="768.84" y="393.50" font-family="'Liberation Sans',sans-serif" font-size="19.00" textLength="10.25" lengthAdjust="spacingAndGlyphs" fill="#111">0</text>
<line x1="876.46" y1="365.8" x2="876.46" y2="372.30" stroke="#111" stroke-width="1.3"/>
<text x="860.70" y="393.50" font-family="'Liberation Sans',sans-serif" font-size="19.00" textLength="30.75" lengthAdjust="spacingAndGlyphs" fill="#111">100</text>
<line x1="978.92" y1="365.8" x2="978.92" y2="372.30" stroke="#111" stroke-width="1.3"/>
<text x="963.44" y="393.50" font-family="'Liberation Sans',sans-serif" font-size="19.00" textLength="30.75" lengthAdjust="spacingAndGlyphs" fill="#111">200</text>
<line x1="1081.38" y1="365.8" x2="1081.38" y2="372.30" stroke="#111" stroke-width="1.3"/>
<text x="1065.99" y="393.50" font-family="'Liberation Sans',sans-serif" font-size="19.00" textLength="30.75" lengthAdjust="spacingAndGlyphs" fill="#111">300</text>
<line x1="1183.84" y1="365.8" x2="1183.84" y2="372.30" stroke="#111" stroke-width="1.3"/>
<text x="1168.64" y="393.50" font-family="'Liberation Sans',sans-serif" font-size="19.00" textLength="30.75" lengthAdjust="spacingAndGlyphs" fill="#111">400</text>
<line x1="1286.30" y1="365.8" x2="1286.30" y2="372.30" stroke="#111" stroke-width="1.3"/>
<text x="1270.91" y="393.50" font-family="'Liberation Sans',sans-serif" font-size="19.00" textLength="30.75" lengthAdjust="spacingAndGlyphs" fill="#111">500</text>
<line x1="741.90" y1="312.30" x2="748.4" y2="312.30" stroke="#111" stroke-width="1.3"/>
<text x="693.32" y="318.86" font-family="'Liberation Sans',sans-serif" font-size="19.00" textLength="41.00" lengthAdjust="spacingAndGlyphs" fill="#111">1620</text>
<line x1="741.90" y1="258.50" x2="748.4" y2="258.50" stroke="#111" stroke-width="1.3"/>
<text x="693.32" y="265.06" font-family="'Liberation Sans',sans-serif" font-size="19.00" textLength="41.00" lengthAdjust="spacingAndGlyphs" fill="#111">1630</text>
<line x1="741.90" y1="204.70" x2="748.4" y2="204.70" stroke="#111" stroke-width="1.3"/>
<text x="693.32" y="211.25" font-family="'Liberation Sans',sans-serif" font-size="19.00" textLength="41.00" lengthAdjust="spacingAndGlyphs" fill="#111">1640</text>
<line x1="741.90" y1="150.90" x2="748.4" y2="150.90" stroke="#111" stroke-width="1.3"/>
<text x="693.32" y="157.45" font-family="'Liberation Sans',sans-serif" font-size="19.00" textLength="41.00" lengthAdjust="spacingAndGlyphs" fill="#111">1650</text>
<line x1="741.90" y1="97.10" x2="748.4" y2="97.10" stroke="#111" stroke-width="1.3"/>
<text x="693.32" y="103.66" font-family="'Liberation Sans',sans-serif" font-size="19.00" textLength="41.00" lengthAdjust="spacingAndGlyphs" fill="#111">1660</text>
<line x1="741.90" y1="43.30" x2="748.4" y2="43.30" stroke="#111" stroke-width="1.3"/>
<text x="693.32" y="49.85" font-family="'Liberation Sans',sans-serif" font-size="19.00" textLength="41.00" lengthAdjust="spacingAndGlyphs" fill="#111">1670</text>
<rect x="751.7" y="34.9" width="233.29999999999995" height="59.300000000000004" rx="3.5" ry="3.5" fill="#fff" fill-opacity="0.8" stroke="#cccccc" stroke-width="1.5"/>
<line x1="759.50" y1="50.3" x2="798.70" y2="50.3" stroke="#1f6aa5" stroke-width="1.8" stroke-dasharray="2 2.55"/>
<line x1="758.80" y1="77" x2="801.10" y2="77" stroke="#ff7f0e" stroke-width="2"/>
<text x="816.29" y="58.40" font-family="'IPAGothic','Noto Sans CJK JP',sans-serif" font-size="18.00" textLength="101.73" lengthAdjust="spacingAndGlyphs" fill="#111" stroke="#111" stroke-width="0.25">True value</text>
<text x="815.68" y="85.20" font-family="'IPAGothic','Noto Sans CJK JP',sans-serif" font-size="18.00" textLength="162.74" lengthAdjust="spacingAndGlyphs" fill="#111" stroke="#111" stroke-width="0.25">Predictive value</text>
<text x="856.20" y="18.40" font-family="'IPAGothic','Noto Sans CJK JP',sans-serif" font-size="23.00" textLength="231.02" lengthAdjust="spacingAndGlyphs" fill="#111" stroke="#111" stroke-width="0.25">Prediction accuracy</text>
<text x="1078.07" y="18.40" font-family="'IPAGothic','Noto Sans CJK JP',sans-serif" font-size="23.00" textLength="31.67" lengthAdjust="spacingAndGlyphs" fill="#111" stroke="#111" stroke-width="0.25">：</text>
<text x="1104.41" y="18.10" font-family="'Liberation Serif',serif" font-size="24.80" textLength="75.30" lengthAdjust="spacingAndGlyphs" fill="#111">42.40%</text>
<text x="978.08" y="414.20" font-family="'IPAGothic','Noto Sans CJK JP',sans-serif" font-size="17.60" textLength="92.05" lengthAdjust="spacingAndGlyphs" fill="#111" stroke="#111" stroke-width="0.25">Sample No</text>
<text transform="translate(686.20,242.19) rotate(-90)" x="0" y="0" font-family="'Liberation Sans',sans-serif" font-size="19.50" textLength="108.94" lengthAdjust="spacingAndGlyphs" fill="#111">Temperature</text>
<text x="991.27" y="451.00" font-family="'Liberation Serif',serif" font-size="20.20" textLength="24.19" lengthAdjust="spacingAndGlyphs" fill="#111">(b)</text>
<clipPath id="clipc"><rect x="1423.6" y="30.7" width="562.9000000000001" height="333.7"/></clipPath>
<g clip-path="url(#clipc)">
<polyline points="1448.9,237.1 1449.9,225.2 1451.0,228.8 1452.0,282.3 1453.0,293.0 1454.0,218.5 1455.1,251.8 1456.1,243.5 1457.1,283.3 1458.1,340.7 1459.2,227.1 1460.2,225.1 1461.2,63.3 1462.2,340.7 1463.3,271.0 1464.3,213.5 1465.3,265.7 1466.3,340.7 1467.4,271.3 1468.4,232.2 1469.4,218.9 1470.4,260.6 1471.5,275.1 1472.5,264.8 1473.5,346.1 1474.5,340.7 1475.6,223.7 1476.6,263.8 1477.6,346.1 1478.6,282.7 1479.7,316.8 1480.7,260.2 1481.7,293.0 1482.7,215.2 1483.8,69.3 1484.8,216.0 1485.8,261.0 1486.8,226.5 1487.9,228.3 1488.9,340.7 1489.9,278.5 1490.9,238.1 1492.0,262.1 1493.0,340.7 1494.0,263.8 1495.0,279.3 1496.1,346.1 1497.1,308.5 1498.1,244.5 1499.1,269.2 1500.2,223.2 1501.2,340.7 1502.2,282.1 1503.2,222.4 1504.3,229.4 1505.3,293.0 1506.3,277.6 1507.3,274.9 1508.4,265.3 1509.4,340.7 1510.4,213.9 1511.4,249.8 1512.5,250.8 1513.5,257.3 1514.5,346.1 1515.6,214.9 1516.6,248.4 1517.6,278.6 1518.6,226.0 1519.7,293.0 1520.7,163.1 1521.7,212.7 1522.7,194.7 1523.8,221.3 1524.8,280.7 1525.8,81.2 1526.8,148.7 1527.9,324.0 1528.9,87.2 1529.9,142.8 1530.9,133.5 1532.0,235.3 1533.0,81.2 1534.0,301.9 1535.0,177.3 1536.1,171.5 1537.1,308.4 1538.1,201.0 1539.1,112.1 1540.2,119.4 1541.2,217.1 1542.2,335.3 1543.2,172.8 1544.3,290.8 1545.3,221.4 1546.3,325.8 1547.3,241.6 1548.4,176.7 1549.4,203.5 1550.4,210.0 1551.4,179.0 1552.5,172.8 1553.5,105.1 1554.5,171.9 1555.5,81.2 1556.6,337.7 1557.6,208.1 1558.6,174.3 1559.6,190.5 1560.7,130.5 1561.7,194.1 1562.7,325.8 1563.7,281.7 1564.8,220.4 1565.8,223.5 1566.8,130.1 1567.8,81.2 1568.9,156.0 1569.9,216.9 1570.9,217.2 1571.9,209.5 1573.0,245.0 1574.0,290.0 1575.0,123.0 1576.0,176.3 1577.1,192.4 1578.1,205.1 1579.1,99.0 1580.2,161.1 1581.2,111.7 1582.2,192.3 1583.2,212.0 1584.3,147.7 1585.3,146.8 1586.3,244.3 1587.3,98.8 1588.4,87.2 1589.4,158.2 1590.4,136.1 1591.4,200.6 1592.5,81.2 1593.5,238.5 1594.5,154.3 1595.5,197.7 1596.6,188.7 1597.6,239.5 1598.6,166.8 1599.6,176.7 1600.7,177.0 1601.7,111.1 1602.7,204.6 1603.7,156.7 1604.8,161.8 1605.8,170.7 1606.8,189.1 1607.8,123.6 1608.9,327.6 1609.9,81.2 1610.9,144.4 1611.9,205.4 1613.0,167.5 1614.0,228.9 1615.0,105.1 1616.0,180.5 1617.1,152.4 1618.1,97.1 1619.1,112.1 1620.1,81.2 1621.2,189.7 1622.2,225.4 1623.2,137.2 1624.2,342.5 1625.3,95.9 1626.3,201.8 1627.3,140.9 1628.3,228.7 1629.4,158.6 1630.4,303.3 1631.4,232.2 1632.4,201.6 1633.5,210.7 1634.5,223.2 1635.5,130.2 1636.5,81.2 1637.6,109.3 1638.6,125.2 1639.6,229.4 1640.6,120.2 1641.7,119.8 1642.7,127.6 1643.7,126.5 1644.8,327.6 1645.8,81.2 1646.8,131.1 1647.8,281.2 1648.9,183.0 1649.9,162.2 1650.9,205.6 1651.9,214.5 1653.0,228.1 1654.0,204.6 1655.0,331.8 1656.0,105.1 1657.1,231.3 1658.1,197.2 1659.1,203.9 1660.1,132.5 1661.2,167.3 1662.2,157.5 1663.2,152.3 1664.2,122.9 1665.3,111.1 1666.3,228.5 1667.3,231.8 1668.3,197.9 1669.4,161.8 1670.4,108.0 1671.4,138.4 1672.4,75.3 1673.5,186.3 1674.5,222.1 1675.5,184.0 1676.5,65.1 1677.6,102.0 1678.6,189.1 1679.6,229.5 1680.6,132.3 1681.7,205.0 1682.7,196.1 1683.7,196.6 1684.7,136.0 1685.8,190.6 1686.8,307.7 1687.8,222.1 1688.8,338.9 1689.9,151.8 1690.9,116.5 1691.9,162.7 1692.9,297.5 1694.0,191.8 1695.0,189.7 1696.0,127.0 1697.0,329.4 1698.1,161.2 1699.1,123.9 1700.1,69.3 1701.1,199.4 1702.2,147.1 1703.2,152.0 1704.2,149.9 1705.2,158.4 1706.3,128.8 1707.3,122.3 1708.3,211.6 1709.4,127.3 1710.4,218.0 1711.4,338.9 1712.4,207.6 1713.5,156.3 1714.5,155.0 1715.5,300.7 1716.5,53.8 1717.6,183.9 1718.6,66.3 1719.6,135.4 1720.6,162.8 1721.7,208.6 1722.7,117.8 1723.7,133.3 1724.7,131.7 1725.8,204.3 1726.8,175.9 1727.8,211.1 1728.8,155.6 1729.9,69.3 1730.9,144.8 1731.9,136.0 1732.9,219.0 1734.0,276.3 1735.0,216.9 1736.0,69.3 1737.0,187.7 1738.1,104.6 1739.1,118.0 1740.1,189.9 1741.1,74.7 1742.2,146.0 1743.2,196.1 1744.2,167.1 1745.2,127.9 1746.3,215.6 1747.3,164.0 1748.3,216.0 1749.3,223.9 1750.4,222.9 1751.4,130.4 1752.4,119.3 1753.4,216.6 1754.5,122.1 1755.5,72.3 1756.5,125.9 1757.5,264.7 1758.6,62.1 1759.6,124.7 1760.6,139.9 1761.6,137.5 1762.7,72.3 1763.7,335.3 1764.7,149.2 1765.7,177.6 1766.8,126.4 1767.8,222.7 1768.8,82.4 1769.9,132.1 1770.9,289.4 1771.9,187.8 1772.9,167.3 1774.0,216.2 1775.0,187.6 1776.0,342.5 1777.0,160.4 1778.1,142.5 1779.1,264.6 1780.1,182.5 1781.1,302.5 1782.2,220.9 1783.2,222.5 1784.2,150.5 1785.2,165.5 1786.3,121.6 1787.3,119.5 1788.3,344.3 1789.3,123.9 1790.4,132.8 1791.4,172.0 1792.4,124.6 1793.4,335.3 1794.5,198.2 1795.5,199.6 1796.5,186.1 1797.5,51.4 1798.6,126.4 1799.6,60.4 1800.6,223.5 1801.6,112.8 1802.7,213.7 1803.7,155.3 1804.7,214.3 1805.7,347.9 1806.8,151.1 1807.8,218.1 1808.8,213.4 1809.8,340.1 1810.9,167.7 1811.9,210.1 1812.9,124.0 1813.9,66.3 1815.0,151.0 1816.0,172.6 1817.0,159.9 1818.0,299.0 1819.1,126.1 1820.1,182.4 1821.1,196.4 1822.1,189.6 1823.2,66.3 1824.2,213.7 1825.2,215.0 1826.2,158.7 1827.3,186.6 1828.3,199.8 1829.3,215.7 1830.3,126.5 1831.4,325.8 1832.4,121.0 1833.4,279.4 1834.5,196.8 1835.5,123.1 1836.5,115.2 1837.5,216.8 1838.6,180.2 1839.6,53.8 1840.6,167.9 1841.6,63.3 1842.7,134.6 1843.7,219.6 1844.7,179.5 1845.7,170.6 1846.8,75.3 1847.8,293.0 1848.8,93.3 1849.8,119.6 1850.9,154.4 1851.9,57.4 1852.9,106.5 1853.9,213.2 1855.0,157.6 1856.0,128.6 1857.0,192.1 1858.0,182.4 1859.1,212.6 1860.1,252.3 1861.1,300.7 1862.1,84.2 1863.2,191.5 1864.2,144.5 1865.2,103.1 1866.2,115.3 1867.3,174.6 1868.3,119.3 1869.3,69.9 1870.3,337.1 1871.4,223.5 1872.4,141.2 1873.4,195.1 1874.4,157.0 1875.5,147.1 1876.5,140.2 1877.5,65.1 1878.5,180.1 1879.6,262.9 1880.6,138.8 1881.6,155.0 1882.6,256.5 1883.7,124.7 1884.7,130.4 1885.7,224.1 1886.7,142.7 1887.8,121.2 1888.8,204.1 1889.8,81.2 1890.8,138.8 1891.9,147.5 1892.9,124.5 1893.9,150.0 1894.9,340.1 1896.0,192.8 1897.0,138.6 1898.0,112.0 1899.1,344.3 1900.1,58.6 1901.1,280.5 1902.1,120.8 1903.2,123.9 1904.2,223.8 1905.2,299.0 1906.2,178.4 1907.3,164.6 1908.3,45.4 1909.3,115.3 1910.3,46.6 1911.4,215.8 1912.4,193.5 1913.4,194.7 1914.4,47.8 1915.5,116.4 1916.5,175.9 1917.5,108.7 1918.5,60.9 1919.6,124.4 1920.6,122.0 1921.6,204.9 1922.6,215.4 1923.7,58.6 1924.7,219.1 1925.7,199.4 1926.7,190.7 1927.8,291.2 1928.8,54.4 1929.8,212.3 1930.8,195.1 1931.9,157.8 1932.9,59.8 1933.9,111.0 1934.9,119.1 1936.0,209.5 1937.0,168.6 1938.0,154.4 1939.0,175.2 1940.1,65.1 1941.1,137.2 1942.1,185.9 1943.1,212.5 1944.2,177.6 1945.2,69.3 1946.2,200.3 1947.2,155.1 1948.3,221.2 1949.3,201.5 1950.3,169.8 1951.3,195.1 1952.4,81.2 1953.4,130.2 1954.4,118.0 1955.4,311.1 1956.5,206.6 1957.5,93.4 1958.5,141.6 1959.5,137.3 1960.6,93.2" fill="none" stroke="#3f88c8" stroke-opacity="0.8" stroke-width="1.7" stroke-dasharray="1.8 2.6" stroke-linecap="butt"/>
<polyline points="1448.9,212.5 1449.9,275.6 1451.0,237.3 1452.0,279.3 1453.0,255.4 1454.0,290.4 1455.1,259.7 1456.1,265.5 1457.1,263.2 1458.1,285.0 1459.2,258.6 1460.2,267.6 1461.2,295.0 1462.2,322.8 1463.3,280.5 1464.3,285.4 1465.3,292.1 1466.3,292.9 1467.4,295.3 1468.4,259.3 1469.4,264.5 1470.4,261.4 1471.5,273.9 1472.5,291.1 1473.5,291.8 1474.5,315.3 1475.6,293.9 1476.6,287.5 1477.6,284.3 1478.6,277.2 1479.7,271.2 1480.7,257.2 1481.7,263.0 1482.7,291.4 1483.8,291.4 1484.8,307.3 1485.8,269.5 1486.8,289.2 1487.9,286.4 1488.9,291.6 1489.9,313.0 1490.9,283.4 1492.0,294.6 1493.0,280.8 1494.0,286.8 1495.0,278.9 1496.1,272.1 1497.1,292.1 1498.1,290.0 1499.1,308.5 1500.2,257.8 1501.2,268.2 1502.2,265.7 1503.2,277.4 1504.3,319.6 1505.3,284.5 1506.3,257.8 1507.3,282.5 1508.4,286.1 1509.4,289.5 1510.4,268.9 1511.4,272.1 1512.5,265.5 1513.5,261.9 1514.5,293.6 1515.6,278.8 1516.6,289.5 1517.6,291.1 1518.6,263.0 1519.7,234.3 1520.7,233.3 1521.7,231.0 1522.7,201.9 1523.8,208.6 1524.8,203.7 1525.8,183.2 1526.8,250.1 1527.9,165.9 1528.9,183.1 1529.9,278.9 1530.9,186.2 1532.0,250.7 1533.0,185.6 1534.0,266.8 1535.0,158.8 1536.1,242.2 1537.1,256.1 1538.1,274.6 1539.1,267.7 1540.2,278.2 1541.2,142.1 1542.2,157.0 1543.2,170.7 1544.3,273.2 1545.3,261.4 1546.3,153.5 1547.3,169.6 1548.4,272.5 1549.4,270.5 1550.4,168.8 1551.4,257.8 1552.5,276.8 1553.5,240.8 1554.5,193.8 1555.5,270.5 1556.6,288.5 1557.6,151.7 1558.6,230.0 1559.6,295.0 1560.7,254.7 1561.7,185.9 1562.7,190.3 1563.7,145.5 1564.8,266.9 1565.8,283.1 1566.8,146.8 1567.8,182.7 1568.9,168.9 1569.9,162.9 1570.9,251.6 1571.9,265.4 1573.0,147.2 1574.0,153.2 1575.0,237.7 1576.0,290.0 1577.1,203.6 1578.1,300.4 1579.1,139.1 1580.2,266.4 1581.2,273.9 1582.2,299.0 1583.2,169.5 1584.3,159.5 1585.3,187.8 1586.3,290.7 1587.3,176.3 1588.4,156.4 1589.4,169.0 1590.4,223.6 1591.4,148.7 1592.5,164.8 1593.5,158.5 1594.5,223.8 1595.5,251.4 1596.6,286.8 1597.6,151.3 1598.6,270.1 1599.6,160.9 1600.7,124.3 1601.7,180.1 1602.7,233.7 1603.7,239.7 1604.8,220.3 1605.8,174.0 1606.8,291.3 1607.8,254.6 1608.9,248.3 1609.9,271.3 1610.9,164.8 1611.9,276.1 1613.0,269.5 1614.0,129.1 1615.0,270.2 1616.0,151.2 1617.1,224.8 1618.1,242.7 1619.1,134.1 1620.1,269.0 1621.2,279.4 1622.2,119.3 1623.2,250.7 1624.2,154.5 1625.3,136.5 1626.3,164.9 1627.3,201.3 1628.3,129.7 1629.4,294.3 1630.4,234.6 1631.4,183.9 1632.4,251.8 1633.5,133.4 1634.5,140.0 1635.5,277.6 1636.5,130.0 1637.6,279.1 1638.6,258.8 1639.6,273.4 1640.6,283.8 1641.7,145.0 1642.7,178.7 1643.7,160.7 1644.8,267.6 1645.8,140.5 1646.8,146.7 1647.8,154.5 1648.9,202.6 1649.9,272.9 1650.9,273.2 1651.9,143.2 1653.0,247.8 1654.0,190.6 1655.0,255.2 1656.0,240.2 1657.1,145.8 1658.1,232.0 1659.1,127.2 1660.1,263.0 1661.2,164.2 1662.2,146.3 1663.2,193.2 1664.2,247.0 1665.3,255.7 1666.3,277.2 1667.3,292.4 1668.3,156.3 1669.4,284.1 1670.4,135.6 1671.4,137.0 1672.4,169.6 1673.5,250.2 1674.5,271.0 1675.5,164.7 1676.5,260.9 1677.6,177.5 1678.6,208.6 1679.6,142.0 1680.6,140.6 1681.7,265.5 1682.7,114.2 1683.7,255.0 1684.7,151.5 1685.8,304.8 1686.8,269.0 1687.8,160.7 1688.8,144.0 1689.9,167.5 1690.9,131.6 1691.9,269.5 1692.9,168.1 1694.0,156.1 1695.0,141.4 1696.0,278.0 1697.0,273.9 1698.1,228.5 1699.1,176.1 1700.1,154.7 1701.1,166.2 1702.2,160.5 1703.2,168.6 1704.2,168.4 1705.2,276.7 1706.3,260.9 1707.3,281.0 1708.3,312.7 1709.4,129.6 1710.4,161.5 1711.4,125.4 1712.4,186.4 1713.5,124.3 1714.5,294.6 1715.5,265.5 1716.5,280.3 1717.6,121.8 1718.6,229.1 1719.6,252.5 1720.6,265.8 1721.7,218.6 1722.7,269.0 1723.7,160.4 1724.7,141.5 1725.8,249.7 1726.8,190.7 1727.8,279.8 1728.8,259.8 1729.9,139.3 1730.9,300.6 1731.9,230.2 1732.9,265.0 1734.0,298.4 1735.0,176.6 1736.0,154.9 1737.0,226.7 1738.1,168.3 1739.1,135.1 1740.1,170.4 1741.1,282.9 1742.2,173.3 1743.2,254.0 1744.2,129.0 1745.2,167.6 1746.3,144.9 1747.3,168.2 1748.3,282.6 1749.3,293.7 1750.4,139.8 1751.4,48.4 1752.4,259.4 1753.4,243.8 1754.5,267.0 1755.5,254.7 1756.5,287.9 1757.5,135.6 1758.6,308.8 1759.6,161.1 1760.6,126.6 1761.6,123.2 1762.7,126.7 1763.7,102.1 1764.7,262.1 1765.7,250.0 1766.8,267.3 1767.8,260.7 1768.8,158.2 1769.9,300.3 1770.9,284.3 1771.9,305.5 1772.9,196.7 1774.0,127.6 1775.0,111.8 1776.0,123.5 1777.0,126.0 1778.1,310.4 1779.1,151.7 1780.1,169.3 1781.1,126.0 1782.2,174.6 1783.2,94.3 1784.2,136.0 1785.2,95.6 1786.3,175.3 1787.3,231.2 1788.3,101.6 1789.3,305.6 1790.4,152.1 1791.4,90.9 1792.4,292.7 1793.4,260.4 1794.5,271.8 1795.5,311.6 1796.5,307.3 1797.5,311.3 1798.6,289.3 1799.6,133.7 1800.6,140.6 1801.6,106.0 1802.7,294.7 1803.7,97.3 1804.7,301.4 1805.7,306.9 1806.8,128.4 1807.8,293.9 1808.8,217.1 1809.8,129.9 1810.9,255.7 1811.9,256.5 1812.9,110.9 1813.9,146.5 1815.0,117.0 1816.0,290.6 1817.0,100.3 1818.0,150.6 1819.1,284.5 1820.1,109.6 1821.1,104.6 1822.1,303.3 1823.2,102.4 1824.2,293.4 1825.2,109.8 1826.2,138.9 1827.3,287.2 1828.3,109.8 1829.3,256.3 1830.3,241.2 1831.4,244.1 1832.4,272.4 1833.4,271.4 1834.5,249.3 1835.5,144.0 1836.5,112.6 1837.5,88.5 1838.6,260.4 1839.6,98.1 1840.6,109.6 1841.6,101.0 1842.7,128.1 1843.7,93.3 1844.7,202.5 1845.7,260.6 1846.8,106.8 1847.8,246.9 1848.8,111.9 1849.8,223.7 1850.9,92.2 1851.9,73.4 1852.9,99.4 1853.9,230.8 1855.0,220.2 1856.0,215.5 1857.0,89.7 1858.0,88.8 1859.1,114.6 1860.1,164.4 1861.1,103.7 1862.1,98.6 1863.2,93.7 1864.2,312.6 1865.2,105.7 1866.2,94.8 1867.3,127.4 1868.3,154.6 1869.3,98.1 1870.3,108.8 1871.4,119.2 1872.4,188.1 1873.4,128.2 1874.4,98.3 1875.5,125.2 1876.5,121.2 1877.5,109.7 1878.5,273.6 1879.6,138.7 1880.6,242.0 1881.6,242.8 1882.6,129.3 1883.7,262.7 1884.7,123.6 1885.7,261.7 1886.7,283.2 1887.8,74.2 1888.8,167.7 1889.8,139.6 1890.8,83.8 1891.9,93.7 1892.9,106.8 1893.9,235.6 1894.9,97.4 1896.0,108.0 1897.0,251.2 1898.0,115.8 1899.1,127.1 1900.1,145.1 1901.1,96.4 1902.1,117.1 1903.2,206.5 1904.2,210.0 1905.2,137.4 1906.2,135.6 1907.3,276.9 1908.3,139.6 1909.3,119.3 1910.3,262.2 1911.4,252.3 1912.4,214.5 1913.4,82.4 1914.4,126.8 1915.5,92.7 1916.5,272.4 1917.5,113.3 1918.5,100.9 1919.6,111.8 1920.6,267.9 1921.6,77.3 1922.6,200.3 1923.7,104.0 1924.7,106.9 1925.7,92.1 1926.7,122.9 1927.8,272.0 1928.8,100.1 1929.8,97.7 1930.8,126.0 1931.9,247.8 1932.9,137.9 1933.9,268.9 1934.9,104.4 1936.0,98.9 1937.0,81.5 1938.0,309.8 1939.0,93.9 1940.1,144.5 1941.1,137.3 1942.1,261.9 1943.1,115.7 1944.2,278.0 1945.2,131.6 1946.2,144.8 1947.2,85.2 1948.3,269.0 1949.3,99.8 1950.3,222.5 1951.3,107.8 1952.4,104.4 1953.4,87.3 1954.4,149.9 1955.4,122.1 1956.5,102.1 1957.5,128.9 1958.5,282.9 1959.5,97.6 1960.6,95.1" fill="none" stroke="#fb8022" stroke-width="2.0" stroke-linejoin="round"/>
</g>
<rect x="1423.6" y="30.7" width="562.9000000000001" height="333.7" fill="none" stroke="#111" stroke-width="1.4"/>
<line x1="1448.90" y1="364.4" x2="1448.90" y2="370.90" stroke="#111" stroke-width="1.3"/>
<text x="1443.74" y="391.70" font-family="'Liberation Sans',sans-serif" font-size="19.00" textLength="10.25" lengthAdjust="spacingAndGlyphs" fill="#111">0</text>
<line x1="1551.44" y1="364.4" x2="1551.44" y2="370.90" stroke="#111" stroke-width="1.3"/>
<text x="1535.68" y="391.70" font-family="'Liberation Sans',sans-serif" font-size="19.00" textLength="30.75" lengthAdjust="spacingAndGlyphs" fill="#111">100</text>
<line x1="1653.98" y1="364.4" x2="1653.98" y2="370.90" stroke="#111" stroke-width="1.3"/>
<text x="1638.50" y="391.70" font-family="'Liberation Sans',sans-serif" font-size="19.00" textLength="30.75" lengthAdjust="spacingAndGlyphs" fill="#111">200</text>
<line x1="1756.52" y1="364.4" x2="1756.52" y2="370.90" stroke="#111" stroke-width="1.3"/>
<text x="1741.13" y="391.70" font-family="'Liberation Sans',sans-serif" font-size="19.00" textLength="30.75" lengthAdjust="spacingAndGlyphs" fill="#111">300</text>
<line x1="1859.06" y1="364.4" x2="1859.06" y2="370.90" stroke="#111" stroke-width="1.3"/>
<text x="1843.86" y="391.70" font-family="'Liberation Sans',sans-serif" font-size="19.00" textLength="30.75" lengthAdjust="spacingAndGlyphs" fill="#111">400</text>
<line x1="1961.60" y1="364.4" x2="1961.60" y2="370.90" stroke="#111" stroke-width="1.3"/>
<text x="1946.21" y="391.70" font-family="'Liberation Sans',sans-serif" font-size="19.00" textLength="30.75" lengthAdjust="spacingAndGlyphs" fill="#111">500</text>
<line x1="1417.10" y1="307.90" x2="1423.6" y2="307.90" stroke="#111" stroke-width="1.3"/>
<text x="1368.52" y="314.45" font-family="'Liberation Sans',sans-serif" font-size="19.00" textLength="41.00" lengthAdjust="spacingAndGlyphs" fill="#111">1620</text>
<line x1="1417.10" y1="248.25" x2="1423.6" y2="248.25" stroke="#111" stroke-width="1.3"/>
<text x="1368.52" y="254.80" font-family="'Liberation Sans',sans-serif" font-size="19.00" textLength="41.00" lengthAdjust="spacingAndGlyphs" fill="#111">1630</text>
<line x1="1417.10" y1="188.60" x2="1423.6" y2="188.60" stroke="#111" stroke-width="1.3"/>
<text x="1368.52" y="195.15" font-family="'Liberation Sans',sans-serif" font-size="19.00" textLength="41.00" lengthAdjust="spacingAndGlyphs" fill="#111">1640</text>
<line x1="1417.10" y1="128.95" x2="1423.6" y2="128.95" stroke="#111" stroke-width="1.3"/>
<text x="1368.52" y="135.50" font-family="'Liberation Sans',sans-serif" font-size="19.00" textLength="41.00" lengthAdjust="spacingAndGlyphs" fill="#111">1650</text>
<line x1="1417.10" y1="69.30" x2="1423.6" y2="69.30" stroke="#111" stroke-width="1.3"/>
<text x="1368.52" y="75.85" font-family="'Liberation Sans',sans-serif" font-size="19.00" textLength="41.00" lengthAdjust="spacingAndGlyphs" fill="#111">1660</text>
<rect x="1428.2" y="34.0" width="234.5" height="58.400000000000006" rx="3.5" ry="3.5" fill="#fff" fill-opacity="0.8" stroke="#cccccc" stroke-width="1.5"/>
<line x1="1436.10" y1="49" x2="1475.30" y2="49" stroke="#1f6aa5" stroke-width="1.8" stroke-dasharray="2 2.55"/>
<line x1="1435.40" y1="75.7" x2="1477.70" y2="75.7" stroke="#ff7f0e" stroke-width="2"/>
<text x="1492.79" y="56.70" font-family="'IPAGothic','Noto Sans CJK JP',sans-serif" font-size="18.00" textLength="101.43" lengthAdjust="spacingAndGlyphs" fill="#111" stroke="#111" stroke-width="0.25">True value</text>
<text x="1492.18" y="83.30" font-family="'IPAGothic','Noto Sans CJK JP',sans-serif" font-size="18.00" textLength="162.64" lengthAdjust="spacingAndGlyphs" fill="#111" stroke="#111" stroke-width="0.25">Predictive value</text>
<text x="1537.70" y="16.60" font-family="'IPAGothic','Noto Sans CJK JP',sans-serif" font-size="22.50" textLength="230.51" lengthAdjust="spacingAndGlyphs" fill="#111" stroke="#111" stroke-width="0.25">Prediction accuracy</text>
<text x="1758.33" y="16.60" font-family="'IPAGothic','Noto Sans CJK JP',sans-serif" font-size="22.50" textLength="33.33" lengthAdjust="spacingAndGlyphs" fill="#111" stroke="#111" stroke-width="0.25">：</text>
<text x="1785.79" y="16.60" font-family="'Liberation Serif',serif" font-size="24.80" textLength="75.32" lengthAdjust="spacingAndGlyphs" fill="#111">78.60%</text>
<text x="1666.18" y="412.80" font-family="'IPAGothic','Noto Sans CJK JP',sans-serif" font-size="17.60" textLength="91.64" lengthAdjust="spacingAndGlyphs" fill="#111" stroke="#111" stroke-width="0.25">Sample No</text>
<text transform="translate(1361.80,237.19) rotate(-90)" x="0" y="0" font-family="'Liberation Sans',sans-serif" font-size="19.50" textLength="110.66" lengthAdjust="spacingAndGlyphs" fill="#111">Temperature</text>
<text x="1667.77" y="450.60" font-family="'Liberation Serif',serif" font-size="19.70" textLength="23.06" lengthAdjust="spacingAndGlyphs" fill="#111">(c)</text>
<clipPath id="clipd"><rect x="78.2" y="531.4" width="564.8" height="336.5"/></clipPath>
<g clip-path="url(#clipd)">
<polyline points="103.6,739.3 104.6,727.2 105.7,730.9 106.7,784.7 107.7,795.5 108.7,720.5 109.8,754.0 110.8,745.7 111.8,785.7 112.9,843.5 113.9,729.2 114.9,727.1 115.9,564.3 117.0,843.5 118.0,773.4 119.0,715.5 120.1,768.0 121.1,843.5 122.1,773.7 123.1,734.3 124.2,720.9 125.2,762.8 126.2,777.5 127.3,767.1 128.3,848.9 129.3,843.5 130.3,725.7 131.4,766.1 132.4,848.9 133.4,785.1 134.5,819.4 135.5,762.5 136.5,795.5 137.6,717.1 138.6,570.3 139.6,717.9 140.6,763.3 141.7,728.5 142.7,730.3 143.7,843.5 144.8,780.9 145.8,740.2 146.8,764.4 147.8,843.5 148.9,766.1 149.9,781.7 150.9,848.9 152.0,811.1 153.0,746.7 154.0,771.5 155.0,725.2 156.1,843.5 157.1,784.5 158.1,724.4 159.2,731.5 160.2,795.5 161.2,780.0 162.2,777.3 163.3,767.6 164.3,843.5 165.3,715.9 166.4,752.0 167.4,753.0 168.4,759.6 169.4,848.9 170.5,716.8 171.5,750.6 172.5,781.0 173.6,728.1 174.6,795.5 175.6,664.7 176.6,714.7 177.7,696.6 178.7,723.3 179.7,783.1 180.8,582.3 181.8,650.2 182.8,826.7 183.8,588.3 184.9,644.2 185.9,634.9 186.9,737.4 188.0,582.3 189.0,804.5 190.0,679.0 191.0,673.1 192.1,811.0 193.1,702.9 194.1,613.4 195.2,620.7 196.2,719.1 197.2,838.1 198.2,674.5 199.3,793.3 200.3,723.4 201.3,828.5 202.4,743.7 203.4,678.4 204.4,705.4 205.5,711.9 206.5,680.7 207.5,674.5 208.5,606.3 209.6,673.6 210.6,582.3 211.6,840.5 212.7,710.1 213.7,676.0 214.7,692.3 215.7,632.0 216.8,695.9 217.8,828.5 218.8,784.1 219.9,722.4 220.9,725.5 221.9,631.5 222.9,582.3 224.0,657.6 225.0,718.9 226.0,719.2 227.1,711.4 228.1,747.2 229.1,792.5 230.1,624.3 231.2,678.0 232.2,694.2 233.2,707.0 234.3,600.2 235.3,662.7 236.3,612.9 237.3,694.2 238.4,713.9 239.4,649.2 240.4,648.3 241.5,746.5 242.5,600.0 243.5,588.3 244.5,659.8 245.6,637.6 246.6,702.4 247.6,582.3 248.7,740.7 249.7,655.9 250.7,699.5 251.7,690.5 252.8,741.7 253.8,668.4 254.8,678.4 255.9,678.7 256.9,612.3 257.9,706.5 258.9,658.3 260.0,663.4 261.0,672.4 262.0,690.9 263.1,624.9 264.1,830.3 265.1,582.3 266.2,645.9 267.2,707.3 268.2,669.1 269.2,731.0 270.3,606.3 271.3,682.3 272.3,654.0 273.4,598.3 274.4,613.4 275.4,582.3 276.4,691.5 277.5,727.5 278.5,638.6 279.5,845.3 280.6,597.0 281.6,703.7 282.6,642.4 283.6,730.8 284.7,660.2 285.7,805.9 286.7,734.3 287.8,703.4 288.8,712.6 289.8,725.2 290.8,631.6 291.9,582.3 292.9,610.6 293.9,626.5 295.0,731.5 296.0,621.6 297.0,621.1 298.0,629.0 299.1,627.9 300.1,830.3 301.1,582.3 302.2,632.5 303.2,783.6 304.2,684.8 305.2,663.8 306.3,707.5 307.3,716.5 308.3,730.1 309.4,706.5 310.4,834.5 311.4,606.3 312.4,733.4 313.5,699.0 314.5,705.8 315.5,633.9 316.6,669.0 317.6,659.1 318.6,653.8 319.6,624.2 320.7,612.3 321.7,730.6 322.7,733.9 323.8,699.7 324.8,663.5 325.8,609.3 326.8,639.9 327.9,576.3 328.9,688.0 329.9,724.1 331.0,685.7 332.0,566.1 333.0,603.2 334.1,691.0 335.1,731.6 336.1,633.7 337.1,706.9 338.2,698.0 339.2,698.4 340.2,637.4 341.3,692.4 342.3,810.3 343.3,724.1 344.3,841.7 345.4,653.3 346.4,617.8 347.4,664.3 348.5,800.0 349.5,693.6 350.5,691.5 351.5,628.4 352.6,832.1 353.6,662.8 354.6,625.3 355.7,570.3 356.7,701.3 357.7,648.6 358.7,653.5 359.8,651.5 360.8,660.0 361.8,630.2 362.9,623.6 363.9,713.6 364.9,628.7 365.9,720.0 367.0,841.7 368.0,709.6 369.0,657.9 370.1,656.6 371.1,803.3 372.1,554.7 373.1,685.6 374.2,567.3 375.2,636.8 376.2,664.4 377.3,710.6 378.3,619.1 379.3,634.7 380.3,633.1 381.4,706.2 382.4,677.6 383.4,713.0 384.5,657.1 385.5,570.3 386.5,646.3 387.5,637.4 388.6,721.0 389.6,778.7 390.6,718.9 391.7,570.3 392.7,689.5 393.7,605.9 394.8,619.3 395.8,691.7 396.8,575.7 397.8,647.5 398.9,698.0 399.9,668.8 400.9,629.3 402.0,717.6 403.0,665.6 404.0,718.0 405.0,726.0 406.1,724.9 407.1,631.9 408.1,620.7 409.2,718.6 410.2,623.5 411.2,573.3 412.2,627.3 413.3,767.1 414.3,563.1 415.3,626.1 416.4,641.4 417.4,639.0 418.4,573.3 419.4,838.1 420.5,650.8 421.5,679.3 422.5,627.8 423.6,724.8 424.6,583.5 425.6,633.5 426.6,791.9 427.7,689.6 428.7,668.9 429.7,718.2 430.8,689.4 431.8,845.3 432.8,662.1 433.8,643.9 434.9,766.9 435.9,684.3 436.9,805.1 438.0,723.0 439.0,724.5 440.0,652.0 441.0,667.2 442.1,622.9 443.1,620.8 444.1,847.1 445.2,625.2 446.2,634.2 447.2,673.7 448.2,625.9 449.3,838.1 450.3,700.1 451.3,701.5 452.4,687.8 453.4,552.3 454.4,627.8 455.4,561.3 456.5,725.6 457.5,614.1 458.5,715.6 459.6,656.8 460.6,716.2 461.6,850.7 462.7,652.7 463.7,720.1 464.7,715.3 465.7,842.9 466.8,669.4 467.8,712.0 468.8,625.4 469.9,567.3 470.9,652.5 471.9,674.2 472.9,661.5 474.0,801.5 475.0,627.5 476.0,684.2 477.1,698.2 478.1,691.4 479.1,567.3 480.1,715.7 481.2,717.0 482.2,660.3 483.2,688.4 484.3,701.6 485.3,717.6 486.3,627.9 487.3,828.5 488.4,622.4 489.4,781.8 490.4,698.6 491.5,624.4 492.5,616.5 493.5,718.8 494.5,681.9 495.6,554.7 496.6,669.5 497.6,564.3 498.7,636.0 499.7,721.6 500.7,681.2 501.7,672.3 502.8,576.3 503.8,795.5 504.8,594.4 505.9,620.9 506.9,656.0 507.9,558.3 508.9,607.7 510.0,715.2 511.0,659.2 512.0,630.0 513.1,694.0 514.1,684.1 515.1,714.6 516.1,754.5 517.2,803.3 518.2,585.3 519.2,693.3 520.3,646.0 521.3,604.4 522.3,616.6 523.4,676.3 524.4,620.7 525.4,570.9 526.4,839.9 527.5,725.5 528.5,642.7 529.5,696.9 530.6,658.6 531.6,648.7 532.6,641.7 533.6,566.1 534.7,681.8 535.7,765.2 536.7,640.3 537.8,656.6 538.8,758.8 539.8,626.0 540.8,631.8 541.9,726.1 542.9,644.2 543.9,622.6 545.0,706.0 546.0,582.3 547.0,640.3 548.0,649.0 549.1,625.9 550.1,651.5 551.1,842.9 552.2,694.7 553.2,640.1 554.2,613.3 555.2,847.1 556.3,559.5 557.3,782.9 558.3,622.2 559.4,625.2 560.4,725.8 561.4,801.5 562.4,680.2 563.5,666.2 564.5,546.3 565.5,616.6 566.6,547.5 567.6,717.8 568.6,695.4 569.6,696.6 570.7,548.7 571.7,617.7 572.7,677.6 573.8,610.0 574.8,561.9 575.8,625.7 576.8,623.3 577.9,706.8 578.9,717.4 579.9,559.5 581.0,721.1 582.0,701.3 583.0,692.6 584.0,793.7 585.1,555.3 586.1,714.3 587.1,696.9 588.2,659.4 589.2,560.7 590.2,612.3 591.3,620.4 592.3,711.4 593.3,670.3 594.3,656.0 595.4,676.9 596.4,566.1 597.4,638.7 598.5,687.7 599.5,714.4 600.5,679.3 601.5,570.3 602.6,702.2 603.6,656.7 604.6,723.2 605.7,703.4 606.7,671.5 607.7,696.9 608.7,582.3 609.8,631.6 610.8,619.3 611.8,813.7 612.9,708.5 613.9,594.5 614.9,643.0 615.9,638.8 617.0,594.3" fill="none" stroke="#3f88c8" stroke-opacity="0.8" stroke-width="1.7" stroke-dasharray="1.8 2.6" stroke-linecap="butt"/>
<polyline points="103.6,748.3 104.6,751.1 105.7,772.0 106.7,744.0 107.7,753.6 108.7,784.8 109.8,782.4 110.8,739.6 111.8,759.9 112.9,785.2 113.9,784.1 114.9,760.9 115.9,797.2 117.0,781.5 118.0,775.2 119.0,783.0 120.1,744.7 121.1,797.8 122.1,777.0 123.1,778.8 124.2,783.2 125.2,740.6 126.2,771.0 127.3,781.1 128.3,781.7 129.3,747.3 130.3,751.9 131.4,778.9 132.4,744.7 133.4,781.6 134.5,780.1 135.5,778.3 136.5,776.2 137.6,771.3 138.6,750.6 139.6,690.4 140.6,757.8 141.7,778.2 142.7,787.6 143.7,788.8 144.8,766.8 145.8,761.0 146.8,802.4 147.8,776.9 148.9,767.1 149.9,791.6 150.9,757.8 152.0,808.0 153.0,763.0 154.0,789.8 155.0,770.1 156.1,768.7 157.1,764.8 158.1,794.2 159.2,764.7 160.2,798.3 161.2,769.8 162.2,769.4 163.3,767.5 164.3,771.3 165.3,793.1 166.4,766.7 167.4,797.0 168.4,773.4 169.4,801.4 170.5,771.2 171.5,783.3 172.5,756.1 173.6,744.8 174.6,724.1 175.6,719.1 176.6,752.2 177.7,753.7 178.7,697.4 179.7,692.9 180.8,705.5 181.8,688.1 182.8,757.2 183.8,675.2 184.9,760.5 185.9,681.5 186.9,726.5 188.0,689.4 189.0,657.8 190.0,734.8 191.0,672.3 192.1,778.1 193.1,759.9 194.1,654.9 195.2,740.7 196.2,726.8 197.2,640.0 198.2,640.8 199.3,771.6 200.3,760.6 201.3,772.9 202.4,663.9 203.4,690.1 204.4,650.6 205.5,736.5 206.5,766.9 207.5,660.6 208.5,622.2 209.6,779.6 210.6,748.2 211.6,693.3 212.7,763.6 213.7,656.5 214.7,763.3 215.7,685.7 216.8,645.9 217.8,733.2 218.8,656.9 219.9,665.4 220.9,670.2 221.9,650.4 222.9,671.6 224.0,786.9 225.0,756.8 226.0,764.0 227.1,767.7 228.1,682.7 229.1,795.0 230.1,782.4 231.2,781.0 232.2,779.2 233.2,764.2 234.3,623.6 235.3,648.6 236.3,769.5 237.3,749.8 238.4,764.1 239.4,801.9 240.4,810.1 241.5,657.2 242.5,756.3 243.5,771.2 244.5,661.0 245.6,669.1 246.6,655.5 247.6,637.6 248.7,651.6 249.7,764.9 250.7,754.7 251.7,670.7 252.8,688.9 253.8,683.7 254.8,731.9 255.9,630.1 256.9,765.0 257.9,779.3 258.9,771.5 260.0,746.7 261.0,720.1 262.0,796.9 263.1,637.2 264.1,662.6 265.1,642.2 266.2,661.5 267.2,676.0 268.2,766.5 269.2,765.2 270.3,670.7 271.3,641.0 272.3,660.1 273.4,733.0 274.4,654.7 275.4,764.8 276.4,746.8 277.5,652.2 278.5,764.8 279.5,785.5 280.6,797.2 281.6,652.4 282.6,629.7 283.6,686.0 284.7,750.9 285.7,795.1 286.7,782.0 287.8,714.0 288.8,773.0 289.8,786.1 290.8,798.0 291.9,786.2 292.9,659.2 293.9,689.8 295.0,787.5 296.0,770.9 297.0,644.6 298.0,757.8 299.1,758.6 300.1,636.7 301.1,661.6 302.2,773.4 303.2,762.7 304.2,790.7 305.2,766.5 306.3,664.3 307.3,776.2 308.3,758.0 309.4,679.8 310.4,667.9 311.4,780.1 312.4,783.6 313.5,670.3 314.5,786.5 315.5,753.5 316.6,696.3 317.6,660.4 318.6,746.4 319.6,700.8 320.7,687.5 321.7,792.6 322.7,682.4 323.8,773.2 324.8,709.8 325.8,786.3 326.8,747.6 327.9,644.2 328.9,636.1 329.9,768.4 331.0,637.7 332.0,738.3 333.0,750.9 334.1,772.8 335.1,661.8 336.1,683.4 337.1,629.8 338.2,643.4 339.2,657.0 340.2,763.4 341.3,795.2 342.3,649.0 343.3,763.8 344.3,777.0 345.4,739.3 346.4,681.7 347.4,646.1 348.5,667.8 349.5,704.6 350.5,785.0 351.5,809.5 352.6,771.0 353.6,759.7 354.6,633.7 355.7,667.4 356.7,757.5 357.7,753.6 358.7,682.6 359.8,779.0 360.8,776.2 361.8,776.4 362.9,629.1 363.9,647.6 364.9,671.2 365.9,729.9 367.0,798.6 368.0,792.4 369.0,751.2 370.1,672.4 371.1,746.7 372.1,736.2 373.1,766.2 374.2,646.6 375.2,663.4 376.2,670.0 377.3,767.3 378.3,771.1 379.3,665.1 380.3,659.6 381.4,772.2 382.4,629.3 383.4,635.0 384.5,766.2 385.5,661.2 386.5,647.5 387.5,783.6 388.6,774.6 389.6,722.1 390.6,689.1 391.7,805.5 392.7,790.6 393.7,662.5 394.8,652.6 395.8,799.2 396.8,652.3 397.8,732.4 398.9,651.6 399.9,655.1 400.9,759.6 402.0,659.8 403.0,677.1 404.0,787.4 405.0,760.4 406.1,657.5 407.1,744.7 408.1,769.5 409.2,777.5 410.2,642.1 411.2,741.3 412.2,756.8 413.3,768.4 414.3,759.9 415.3,663.3 416.4,793.9 417.4,620.1 418.4,680.6 419.4,797.9 420.5,640.1 421.5,787.2 422.5,769.2 423.6,797.4 424.6,789.6 425.6,660.0 426.6,613.6 427.7,660.0 428.7,795.4 429.7,673.8 430.8,768.5 431.8,625.0 432.8,799.4 433.8,786.8 434.9,778.0 435.9,645.5 436.9,652.5 438.0,748.4 439.0,808.8 440.0,747.9 441.0,663.7 442.1,626.7 443.1,755.7 444.1,794.2 445.2,742.1 446.2,788.3 447.2,793.5 448.2,768.7 449.3,638.6 450.3,777.8 451.3,780.0 452.4,630.7 453.4,637.4 454.4,791.2 455.4,783.5 456.5,696.7 457.5,629.1 458.5,809.1 459.6,775.9 460.6,607.8 461.6,626.1 462.7,758.3 463.7,796.6 464.7,772.5 465.7,799.1 466.8,666.3 467.8,716.8 468.8,615.9 469.9,671.7 470.9,802.2 471.9,645.0 472.9,672.2 474.0,618.4 475.0,656.6 476.0,636.8 477.1,810.6 478.1,784.6 479.1,601.7 480.1,738.7 481.2,739.0 482.2,657.7 483.2,607.5 484.3,636.6 485.3,646.4 486.3,604.7 487.3,611.2 488.4,800.1 489.4,658.6 490.4,756.7 491.5,713.3 492.5,657.3 493.5,591.5 494.5,775.8 495.6,796.8 496.6,605.4 497.6,659.3 498.7,746.2 499.7,807.3 500.7,640.6 501.7,719.8 502.8,760.5 503.8,594.7 504.8,625.7 505.9,641.7 506.9,611.3 507.9,642.6 508.9,621.0 510.0,643.5 511.0,609.6 512.0,734.2 513.1,757.9 514.1,752.9 515.1,764.6 516.1,663.2 517.2,721.8 518.2,607.2 519.2,786.9 520.3,625.1 521.3,612.7 522.3,576.2 523.4,651.2 524.4,621.8 525.4,643.5 526.4,602.8 527.5,609.9 528.5,596.4 529.5,773.8 530.6,655.7 531.6,652.4 532.6,757.7 533.6,614.5 534.7,625.5 535.7,640.1 536.7,640.9 537.8,584.2 538.8,635.3 539.8,770.8 540.8,646.2 541.9,620.3 542.9,621.4 543.9,621.9 545.0,722.3 546.0,772.9 547.0,621.2 548.0,755.9 549.1,733.8 550.1,639.4 551.1,615.4 552.2,649.5 553.2,801.3 554.2,601.9 555.2,627.7 556.3,616.8 557.3,627.9 558.3,656.0 559.4,602.2 560.4,614.1 561.4,600.0 562.4,729.5 563.5,596.3 564.5,770.9 565.5,769.3 566.6,639.3 567.6,747.0 568.6,592.1 569.6,607.0 570.7,644.8 571.7,731.4 572.7,644.1 573.8,606.4 574.8,612.0 575.8,737.1 576.8,616.3 577.9,807.5 578.9,608.7 579.9,632.2 581.0,780.0 582.0,650.5 583.0,636.4 584.0,720.8 585.1,797.8 586.1,742.1 587.1,744.3 588.2,609.3 589.2,604.0 590.2,737.6 591.3,807.8 592.3,621.4 593.3,760.4 594.3,624.3 595.4,734.4 596.4,631.9 597.4,611.3 598.5,782.0 599.5,605.7 600.5,751.6 601.5,639.0 602.6,805.7 603.6,581.5 604.6,631.3 605.7,796.0 606.7,618.7 607.7,658.9 608.7,633.7 609.8,589.4 610.8,654.2 611.8,627.7 612.9,596.0 613.9,669.1 614.9,619.7 615.9,595.7 617.0,790.3" fill="none" stroke="#fb8022" stroke-width="2.0" stroke-linejoin="round"/>
</g>
<rect x="78.2" y="531.4" width="564.8" height="336.5" fill="none" stroke="#111" stroke-width="1.4"/>
<line x1="103.60" y1="867.9" x2="103.60" y2="874.40" stroke="#111" stroke-width="1.3"/>
<text x="98.44" y="895.30" font-family="'Liberation Sans',sans-serif" font-size="19.00" textLength="10.25" lengthAdjust="spacingAndGlyphs" fill="#111">0</text>
<line x1="206.48" y1="867.9" x2="206.48" y2="874.40" stroke="#111" stroke-width="1.3"/>
<text x="190.72" y="895.30" font-family="'Liberation Sans',sans-serif" font-size="19.00" textLength="30.75" lengthAdjust="spacingAndGlyphs" fill="#111">100</text>
<line x1="309.36" y1="867.9" x2="309.36" y2="874.40" stroke="#111" stroke-width="1.3"/>
<text x="293.88" y="895.30" font-family="'Liberation Sans',sans-serif" font-size="19.00" textLength="30.75" lengthAdjust="spacingAndGlyphs" fill="#111">200</text>
<line x1="412.24" y1="867.9" x2="412.24" y2="874.40" stroke="#111" stroke-width="1.3"/>
<text x="396.85" y="895.30" font-family="'Liberation Sans',sans-serif" font-size="19.00" textLength="30.75" lengthAdjust="spacingAndGlyphs" fill="#111">300</text>
<line x1="515.12" y1="867.9" x2="515.12" y2="874.40" stroke="#111" stroke-width="1.3"/>
<text x="499.92" y="895.30" font-family="'Liberation Sans',sans-serif" font-size="19.00" textLength="30.75" lengthAdjust="spacingAndGlyphs" fill="#111">400</text>
<line x1="618.00" y1="867.9" x2="618.00" y2="874.40" stroke="#111" stroke-width="1.3"/>
<text x="602.61" y="895.30" font-family="'Liberation Sans',sans-serif" font-size="19.00" textLength="30.75" lengthAdjust="spacingAndGlyphs" fill="#111">500</text>
<line x1="71.70" y1="810.50" x2="78.2" y2="810.50" stroke="#111" stroke-width="1.3"/>
<text x="23.12" y="817.05" font-family="'Liberation Sans',sans-serif" font-size="19.00" textLength="41.00" lengthAdjust="spacingAndGlyphs" fill="#111">1620</text>
<line x1="71.70" y1="750.45" x2="78.2" y2="750.45" stroke="#111" stroke-width="1.3"/>
<text x="23.12" y="757.00" font-family="'Liberation Sans',sans-serif" font-size="19.00" textLength="41.00" lengthAdjust="spacingAndGlyphs" fill="#111">1630</text>
<line x1="71.70" y1="690.40" x2="78.2" y2="690.40" stroke="#111" stroke-width="1.3"/>
<text x="23.12" y="696.95" font-family="'Liberation Sans',sans-serif" font-size="19.00" textLength="41.00" lengthAdjust="spacingAndGlyphs" fill="#111">1640</text>
<line x1="71.70" y1="630.35" x2="78.2" y2="630.35" stroke="#111" stroke-width="1.3"/>
<text x="23.12" y="636.90" font-family="'Liberation Sans',sans-serif" font-size="19.00" textLength="41.00" lengthAdjust="spacingAndGlyphs" fill="#111">1650</text>
<line x1="71.70" y1="570.30" x2="78.2" y2="570.30" stroke="#111" stroke-width="1.3"/>
<text x="23.12" y="576.85" font-family="'Liberation Sans',sans-serif" font-size="19.00" textLength="41.00" lengthAdjust="spacingAndGlyphs" fill="#111">1660</text>
<rect x="83.3" y="535.4" width="234.39999999999998" height="59.0" rx="3.5" ry="3.5" fill="#fff" fill-opacity="0.8" stroke="#cccccc" stroke-width="1.5"/>
<line x1="91.20" y1="550.7" x2="130.40" y2="550.7" stroke="#1f6aa5" stroke-width="1.8" stroke-dasharray="2 2.55"/>
<line x1="90.50" y1="577.7" x2="132.80" y2="577.7" stroke="#ff7f0e" stroke-width="2"/>
<text x="148.79" y="557.70" font-family="'IPAGothic','Noto Sans CJK JP',sans-serif" font-size="18.00" textLength="101.43" lengthAdjust="spacingAndGlyphs" fill="#111" stroke="#111" stroke-width="0.25">True value</text>
<text x="148.17" y="584.90" font-family="'IPAGothic','Noto Sans CJK JP',sans-serif" font-size="18.00" textLength="163.25" lengthAdjust="spacingAndGlyphs" fill="#111" stroke="#111" stroke-width="0.25">Predictive value</text>
<text x="186.90" y="517.40" font-family="'IPAGothic','Noto Sans CJK JP',sans-serif" font-size="22.00" textLength="230.82" lengthAdjust="spacingAndGlyphs" fill="#111" stroke="#111" stroke-width="0.25">Prediction accuracy</text>
<text x="409.67" y="517.40" font-family="'IPAGothic','Noto Sans CJK JP',sans-serif" font-size="22.00" textLength="29.17" lengthAdjust="spacingAndGlyphs" fill="#111" stroke="#111" stroke-width="0.25">：</text>
<text x="435.07" y="517.40" font-family="'Liberation Serif',serif" font-size="24.80" textLength="75.14" lengthAdjust="spacingAndGlyphs" fill="#111">90.60%</text>
<text x="308.98" y="916.40" font-family="'IPAGothic','Noto Sans CJK JP',sans-serif" font-size="17.60" textLength="92.15" lengthAdjust="spacingAndGlyphs" fill="#111" stroke="#111" stroke-width="0.25">Sample No</text>
<text transform="translate(15.90,739.40) rotate(-90)" x="0" y="0" font-family="'Liberation Sans',sans-serif" font-size="19.50" textLength="111.47" lengthAdjust="spacingAndGlyphs" fill="#111">Temperature</text>
<text x="323.87" y="959.40" font-family="'Liberation Serif',serif" font-size="19.60" textLength="24.19" lengthAdjust="spacingAndGlyphs" fill="#111">(d)</text>
<clipPath id="clipe"><rect x="744.6" y="531.2" width="564.8000000000001" height="336.79999999999995"/></clipPath>
<g clip-path="url(#clipe)">
<polyline points="770.0,739.3 771.0,727.2 772.1,730.9 773.1,784.7 774.1,795.5 775.1,720.5 776.2,754.0 777.2,745.7 778.2,785.7 779.3,843.5 780.3,729.2 781.3,727.1 782.4,564.3 783.4,843.5 784.4,773.4 785.4,715.5 786.5,768.0 787.5,843.5 788.5,773.7 789.6,734.3 790.6,720.9 791.6,762.8 792.6,777.5 793.7,767.1 794.7,848.9 795.7,843.5 796.8,725.7 797.8,766.1 798.8,848.9 799.9,785.1 800.9,819.4 801.9,762.5 802.9,795.5 804.0,717.1 805.0,570.3 806.0,717.9 807.1,763.3 808.1,728.5 809.1,730.3 810.1,843.5 811.2,780.9 812.2,740.2 813.2,764.4 814.3,843.5 815.3,766.1 816.3,781.7 817.4,848.9 818.4,811.1 819.4,746.7 820.4,771.5 821.5,725.2 822.5,843.5 823.5,784.5 824.6,724.4 825.6,731.5 826.6,795.5 827.6,780.0 828.7,777.3 829.7,767.6 830.7,843.5 831.8,715.9 832.8,752.0 833.8,753.0 834.9,759.6 835.9,848.9 836.9,716.8 837.9,750.6 839.0,781.0 840.0,728.1 841.0,795.5 842.1,664.7 843.1,714.7 844.1,696.6 845.1,723.3 846.2,783.1 847.2,582.3 848.2,650.2 849.3,826.7 850.3,588.3 851.3,644.2 852.4,634.9 853.4,737.4 854.4,582.3 855.4,804.5 856.5,679.0 857.5,673.1 858.5,811.0 859.6,702.9 860.6,613.4 861.6,620.7 862.6,719.1 863.7,838.1 864.7,674.5 865.7,793.3 866.8,723.4 867.8,828.5 868.8,743.7 869.9,678.4 870.9,705.4 871.9,711.9 872.9,680.7 874.0,674.5 875.0,606.3 876.0,673.6 877.1,582.3 878.1,840.5 879.1,710.1 880.1,676.0 881.2,692.3 882.2,632.0 883.2,695.9 884.3,828.5 885.3,784.1 886.3,722.4 887.4,725.5 888.4,631.5 889.4,582.3 890.4,657.6 891.5,718.9 892.5,719.2 893.5,711.4 894.6,747.2 895.6,792.5 896.6,624.3 897.6,678.0 898.7,694.2 899.7,707.0 900.7,600.2 901.8,662.7 902.8,612.9 903.8,694.2 904.9,713.9 905.9,649.2 906.9,648.3 907.9,746.5 909.0,600.0 910.0,588.3 911.0,659.8 912.1,637.6 913.1,702.4 914.1,582.3 915.1,740.7 916.2,655.9 917.2,699.5 918.2,690.5 919.3,741.7 920.3,668.4 921.3,678.4 922.4,678.7 923.4,612.3 924.4,706.5 925.4,658.3 926.5,663.4 927.5,672.4 928.5,690.9 929.6,624.9 930.6,830.3 931.6,582.3 932.6,645.9 933.7,707.3 934.7,669.1 935.7,731.0 936.8,606.3 937.8,682.3 938.8,654.0 939.9,598.3 940.9,613.4 941.9,582.3 942.9,691.5 944.0,727.5 945.0,638.6 946.0,845.3 947.1,597.0 948.1,703.7 949.1,642.4 950.1,730.8 951.2,660.2 952.2,805.9 953.2,734.3 954.3,703.4 955.3,712.6 956.3,725.2 957.4,631.6 958.4,582.3 959.4,610.6 960.4,626.5 961.5,731.5 962.5,621.6 963.5,621.1 964.6,629.0 965.6,627.9 966.6,830.3 967.6,582.3 968.7,632.5 969.7,783.6 970.7,684.8 971.8,663.8 972.8,707.5 973.8,716.5 974.9,730.1 975.9,706.5 976.9,834.5 977.9,606.3 979.0,733.4 980.0,699.0 981.0,705.8 982.1,633.9 983.1,669.0 984.1,659.1 985.1,653.8 986.2,624.2 987.2,612.3 988.2,730.6 989.3,733.9 990.3,699.7 991.3,663.5 992.4,609.3 993.4,639.9 994.4,576.3 995.4,688.0 996.5,724.1 997.5,685.7 998.5,566.1 999.6,603.2 1000.6,691.0 1001.6,731.6 1002.6,633.7 1003.7,706.9 1004.7,698.0 1005.7,698.4 1006.8,637.4 1007.8,692.4 1008.8,810.3 1009.9,724.1 1010.9,841.7 1011.9,653.3 1012.9,617.8 1014.0,664.3 1015.0,800.0 1016.0,693.6 1017.1,691.5 1018.1,628.4 1019.1,832.1 1020.1,662.8 1021.2,625.3 1022.2,570.3 1023.2,701.3 1024.3,648.6 1025.3,653.5 1026.3,651.5 1027.3,660.0 1028.4,630.2 1029.4,623.6 1030.4,713.6 1031.5,628.7 1032.5,720.0 1033.5,841.7 1034.6,709.6 1035.6,657.9 1036.6,656.6 1037.6,803.3 1038.7,554.7 1039.7,685.6 1040.7,567.3 1041.8,636.8 1042.8,664.4 1043.8,710.6 1044.8,619.1 1045.9,634.7 1046.9,633.1 1047.9,706.2 1049.0,677.6 1050.0,713.0 1051.0,657.1 1052.1,570.3 1053.1,646.3 1054.1,637.4 1055.1,721.0 1056.2,778.7 1057.2,718.9 1058.2,570.3 1059.3,689.5 1060.3,605.9 1061.3,619.3 1062.3,691.7 1063.4,575.7 1064.4,647.5 1065.4,698.0 1066.5,668.8 1067.5,629.3 1068.5,717.6 1069.6,665.6 1070.6,718.0 1071.6,726.0 1072.6,724.9 1073.7,631.9 1074.7,620.7 1075.7,718.6 1076.8,623.5 1077.8,573.3 1078.8,627.3 1079.8,767.1 1080.9,563.1 1081.9,626.1 1082.9,641.4 1084.0,639.0 1085.0,573.3 1086.0,838.1 1087.1,650.8 1088.1,679.3 1089.1,627.8 1090.1,724.8 1091.2,583.5 1092.2,633.5 1093.2,791.9 1094.3,689.6 1095.3,668.9 1096.3,718.2 1097.3,689.4 1098.4,845.3 1099.4,662.1 1100.4,643.9 1101.5,766.9 1102.5,684.3 1103.5,805.1 1104.6,723.0 1105.6,724.5 1106.6,652.0 1107.6,667.2 1108.7,622.9 1109.7,620.8 1110.7,847.1 1111.8,625.2 1112.8,634.2 1113.8,673.7 1114.8,625.9 1115.9,838.1 1116.9,700.1 1117.9,701.5 1119.0,687.8 1120.0,552.3 1121.0,627.8 1122.1,561.3 1123.1,725.6 1124.1,614.1 1125.1,715.6 1126.2,656.8 1127.2,716.2 1128.2,850.7 1129.3,652.7 1130.3,720.1 1131.3,715.3 1132.3,842.9 1133.4,669.4 1134.4,712.0 1135.4,625.4 1136.5,567.3 1137.5,652.5 1138.5,674.2 1139.6,661.5 1140.6,801.5 1141.6,627.5 1142.6,684.2 1143.7,698.2 1144.7,691.4 1145.7,567.3 1146.8,715.7 1147.8,717.0 1148.8,660.3 1149.8,688.4 1150.9,701.6 1151.9,717.6 1152.9,627.9 1154.0,828.5 1155.0,622.4 1156.0,781.8 1157.1,698.6 1158.1,624.4 1159.1,616.5 1160.1,718.8 1161.2,681.9 1162.2,554.7 1163.2,669.5 1164.3,564.3 1165.3,636.0 1166.3,721.6 1167.3,681.2 1168.4,672.3 1169.4,576.3 1170.4,795.5 1171.5,594.4 1172.5,620.9 1173.5,656.0 1174.6,558.3 1175.6,607.7 1176.6,715.2 1177.6,659.2 1178.7,630.0 1179.7,694.0 1180.7,684.1 1181.8,714.6 1182.8,754.5 1183.8,803.3 1184.8,585.3 1185.9,693.3 1186.9,646.0 1187.9,604.4 1189.0,616.6 1190.0,676.3 1191.0,620.7 1192.1,570.9 1193.1,839.9 1194.1,725.5 1195.1,642.7 1196.2,696.9 1197.2,658.6 1198.2,648.7 1199.3,641.7 1200.3,566.1 1201.3,681.8 1202.3,765.2 1203.4,640.3 1204.4,656.6 1205.4,758.8 1206.5,626.0 1207.5,631.8 1208.5,726.1 1209.6,644.2 1210.6,622.6 1211.6,706.0 1212.6,582.3 1213.7,640.3 1214.7,649.0 1215.7,625.9 1216.8,651.5 1217.8,842.9 1218.8,694.7 1219.8,640.1 1220.9,613.3 1221.9,847.1 1222.9,559.5 1224.0,782.9 1225.0,622.2 1226.0,625.2 1227.1,725.8 1228.1,801.5 1229.1,680.2 1230.1,666.2 1231.2,546.3 1232.2,616.6 1233.2,547.5 1234.3,717.8 1235.3,695.4 1236.3,696.6 1237.3,548.7 1238.4,617.7 1239.4,677.6 1240.4,610.0 1241.5,561.9 1242.5,625.7 1243.5,623.3 1244.6,706.8 1245.6,717.4 1246.6,559.5 1247.6,721.1 1248.7,701.3 1249.7,692.6 1250.7,793.7 1251.8,555.3 1252.8,714.3 1253.8,696.9 1254.8,659.4 1255.9,560.7 1256.9,612.3 1257.9,620.4 1259.0,711.4 1260.0,670.3 1261.0,656.0 1262.1,676.9 1263.1,566.1 1264.1,638.7 1265.1,687.7 1266.2,714.4 1267.2,679.3 1268.2,570.3 1269.3,702.2 1270.3,656.7 1271.3,723.2 1272.3,703.4 1273.4,671.5 1274.4,696.9 1275.4,582.3 1276.5,631.6 1277.5,619.3 1278.5,813.7 1279.6,708.5 1280.6,594.5 1281.6,643.0 1282.6,638.8 1283.7,594.3" fill="none" stroke="#3f88c8" stroke-opacity="0.8" stroke-width="1.7" stroke-dasharray="1.8 2.6" stroke-linecap="butt"/>
<polyline points="770.0,744.0 771.0,742.2 772.1,760.4 773.1,757.7 774.1,741.3 775.1,757.5 776.2,747.6 777.2,749.4 778.2,751.8 779.3,757.5 780.3,758.4 781.3,772.0 782.4,714.4 783.4,752.2 784.4,754.1 785.4,757.5 786.5,759.9 787.5,744.9 788.5,742.6 789.6,750.8 790.6,742.3 791.6,749.0 792.6,758.7 793.7,756.6 794.7,757.7 795.7,768.4 796.8,749.0 797.8,752.2 798.8,757.0 799.9,760.2 800.9,760.1 801.9,744.1 802.9,742.7 804.0,755.6 805.0,757.5 806.0,746.3 807.1,758.3 808.1,748.9 809.1,741.8 810.1,742.7 811.2,755.9 812.2,740.9 813.2,755.9 814.3,748.3 815.3,742.5 816.3,744.4 817.4,753.7 818.4,754.4 819.4,757.7 820.4,740.6 821.5,749.8 822.5,751.8 823.5,754.0 824.6,741.8 825.6,750.8 826.6,743.5 827.6,746.8 828.7,758.7 829.7,741.7 830.7,742.4 831.8,758.9 832.8,740.8 833.8,745.6 834.9,755.0 835.9,756.8 836.9,743.7 837.9,744.2 839.0,745.3 840.0,755.9 841.0,729.4 842.1,728.5 843.1,725.2 844.1,704.3 845.1,693.4 846.2,737.7 847.2,709.6 848.2,741.7 849.3,688.0 850.3,683.0 851.3,685.0 852.4,679.7 853.4,694.9 854.4,685.6 855.4,746.6 856.5,736.9 857.5,663.2 858.5,760.0 859.6,693.7 860.6,678.8 861.6,734.2 862.6,660.0 863.7,667.2 864.7,731.5 865.7,659.6 866.8,738.3 867.8,719.3 868.8,690.2 869.9,662.5 870.9,668.7 871.9,736.3 872.9,748.4 874.0,683.0 875.0,648.7 876.0,738.3 877.1,681.0 878.1,673.7 879.1,712.8 880.1,657.5 881.2,656.2 882.2,656.4 883.2,745.3 884.3,762.6 885.3,753.7 886.3,730.6 887.4,696.2 888.4,666.3 889.4,730.6 890.4,690.8 891.5,725.1 892.5,700.9 893.5,727.8 894.6,678.0 895.6,745.3 896.6,690.9 897.6,756.5 898.7,760.7 899.7,681.9 900.7,656.3 901.8,694.4 902.8,783.3 903.8,672.2 904.9,747.1 905.9,674.9 906.9,753.2 907.9,667.4 909.0,668.8 910.0,685.1 911.0,683.5 912.1,746.3 913.1,662.8 914.1,656.5 915.1,688.4 916.2,744.7 917.2,732.2 918.2,734.0 919.3,692.2 920.3,742.1 921.3,732.2 922.4,711.9 923.4,708.1 924.4,661.7 925.4,728.0 926.5,675.4 927.5,718.9 928.5,671.3 929.6,734.4 930.6,665.2 931.6,760.3 932.6,656.1 933.7,724.6 934.7,743.9 935.7,737.1 936.8,717.9 937.8,755.4 938.8,715.8 939.9,655.3 940.9,751.8 941.9,758.7 942.9,773.2 944.0,709.4 945.0,746.7 946.0,701.6 947.1,729.8 948.1,758.3 949.1,749.1 950.1,670.4 951.2,747.3 952.2,731.2 953.2,660.1 954.3,670.6 955.3,672.7 956.3,743.5 957.4,743.5 958.4,666.5 959.4,757.8 960.4,672.6 961.5,669.2 962.5,737.6 963.5,749.2 964.6,657.5 965.6,750.3 966.6,695.3 967.6,676.8 968.7,693.1 969.7,682.6 970.7,733.9 971.8,670.8 972.8,651.7 973.8,688.9 974.9,656.7 975.9,719.1 976.9,744.0 977.9,676.0 979.0,675.4 980.0,634.0 981.0,727.5 982.1,659.9 983.1,739.3 984.1,727.0 985.1,683.8 986.2,722.0 987.2,750.7 988.2,743.6 989.3,692.0 990.3,656.7 991.3,744.3 992.4,742.6 993.4,741.3 994.4,726.9 995.4,734.9 996.5,673.3 997.5,728.9 998.5,669.1 999.6,678.2 1000.6,710.7 1001.6,730.5 1002.6,702.7 1003.7,742.3 1004.7,676.7 1005.7,724.4 1006.8,650.3 1007.8,743.7 1008.8,725.9 1009.9,662.4 1010.9,754.9 1011.9,663.2 1012.9,784.3 1014.0,728.2 1015.0,707.8 1016.0,745.0 1017.1,718.0 1018.1,744.4 1019.1,666.5 1020.1,730.3 1021.2,708.8 1022.2,658.3 1023.2,656.5 1024.3,644.1 1025.3,659.2 1026.3,688.7 1027.3,725.6 1028.4,660.6 1029.4,698.0 1030.4,730.7 1031.5,656.5 1032.5,702.6 1033.5,728.6 1034.6,677.8 1035.6,682.7 1036.6,694.2 1037.6,739.1 1038.7,728.7 1039.7,743.9 1040.7,733.8 1041.8,737.2 1042.8,704.9 1043.8,726.8 1044.8,732.7 1045.9,741.6 1046.9,668.1 1047.9,727.4 1049.0,725.0 1050.0,725.5 1051.0,734.9 1052.1,646.3 1053.1,684.5 1054.1,681.6 1055.1,658.2 1056.2,722.1 1057.2,661.9 1058.2,669.8 1059.3,745.6 1060.3,654.7 1061.3,724.0 1062.3,664.3 1063.4,672.7 1064.4,646.2 1065.4,732.3 1066.5,747.3 1067.5,688.8 1068.5,670.1 1069.6,680.0 1070.6,684.1 1071.6,722.5 1072.6,732.7 1073.7,655.1 1074.7,741.4 1075.7,722.7 1076.8,664.3 1077.8,652.8 1078.8,737.9 1079.8,682.5 1080.9,743.1 1081.9,735.0 1082.9,669.0 1084.0,697.3 1085.0,749.3 1086.0,731.6 1087.1,746.1 1088.1,724.1 1089.1,738.0 1090.1,652.1 1091.2,743.6 1092.2,728.5 1093.2,673.3 1094.3,740.0 1095.3,708.4 1096.3,757.1 1097.3,713.9 1098.4,665.0 1099.4,693.4 1100.4,673.5 1101.5,635.5 1102.5,753.6 1103.5,734.7 1104.6,646.0 1105.6,701.3 1106.6,655.5 1107.6,744.7 1108.7,757.1 1109.7,710.6 1110.7,666.0 1111.8,730.9 1112.8,618.0 1113.8,759.9 1114.8,649.0 1115.9,623.3 1116.9,704.5 1117.9,719.5 1119.0,740.8 1120.0,650.1 1121.0,718.6 1122.1,640.5 1123.1,750.8 1124.1,619.4 1125.1,663.0 1126.2,706.3 1127.2,703.0 1128.2,742.7 1129.3,656.6 1130.3,651.0 1131.3,653.2 1132.3,634.1 1133.4,689.8 1134.4,737.2 1135.4,642.9 1136.5,742.9 1137.5,727.8 1138.5,742.3 1139.6,634.7 1140.6,770.6 1141.6,692.0 1142.6,758.4 1143.7,628.1 1144.7,741.3 1145.7,658.3 1146.8,723.5 1147.8,638.7 1148.8,664.7 1149.8,627.2 1150.9,722.6 1151.9,744.1 1152.9,718.1 1154.0,620.5 1155.0,716.0 1156.0,652.3 1157.1,742.0 1158.1,740.0 1159.1,679.8 1160.1,739.5 1161.2,725.6 1162.2,608.7 1163.2,722.4 1164.3,639.9 1165.3,675.9 1166.3,738.1 1167.3,638.5 1168.4,683.1 1169.4,732.0 1170.4,633.2 1171.5,743.3 1172.5,644.8 1173.5,745.1 1174.6,741.2 1175.6,603.5 1176.6,702.6 1177.6,658.2 1178.7,709.3 1179.7,726.7 1180.7,647.5 1181.8,754.1 1182.8,656.3 1183.8,617.4 1184.8,631.8 1185.9,634.7 1186.9,641.3 1187.9,617.5 1189.0,606.4 1190.0,710.8 1191.0,744.4 1192.1,631.4 1193.1,757.1 1194.1,611.8 1195.1,624.3 1196.2,726.9 1197.2,715.5 1198.2,661.6 1199.3,680.9 1200.3,635.4 1201.3,774.2 1202.3,631.6 1203.4,721.0 1204.4,640.9 1205.4,706.2 1206.5,639.5 1207.5,628.9 1208.5,734.9 1209.6,782.4 1210.6,656.6 1211.6,624.0 1212.6,741.2 1213.7,642.3 1214.7,731.9 1215.7,643.6 1216.8,643.3 1217.8,720.1 1218.8,669.3 1219.8,630.4 1220.9,720.2 1221.9,703.5 1222.9,647.2 1224.0,678.1 1225.0,744.5 1226.0,606.2 1227.1,663.5 1228.1,718.1 1229.1,759.9 1230.1,735.5 1231.2,647.2 1232.2,744.8 1233.2,746.5 1234.3,675.9 1235.3,637.9 1236.3,769.1 1237.3,695.8 1238.4,616.0 1239.4,669.2 1240.4,730.7 1241.5,630.2 1242.5,660.2 1243.5,628.2 1244.6,633.0 1245.6,719.6 1246.6,717.8 1247.6,716.6 1248.7,729.7 1249.7,650.1 1250.7,708.8 1251.8,716.0 1252.8,748.0 1253.8,623.7 1254.8,738.0 1255.9,754.6 1256.9,656.0 1257.9,728.9 1259.0,718.9 1260.0,701.8 1261.0,717.2 1262.1,750.2 1263.1,746.3 1264.1,730.1 1265.1,707.6 1266.2,633.5 1267.2,645.5 1268.2,640.6 1269.3,757.9 1270.3,745.0 1271.3,739.5 1272.3,695.6 1273.4,740.6 1274.4,691.3 1275.4,744.2 1276.5,735.1 1277.5,649.2 1278.5,736.5 1279.6,636.2 1280.6,685.4 1281.6,643.6 1282.6,635.5 1283.7,665.4" fill="none" stroke="#fb8022" stroke-width="2.0" stroke-linejoin="round"/>
</g>
<rect x="744.6" y="531.2" width="564.8000000000001" height="336.79999999999995" fill="none" stroke="#111" stroke-width="1.4"/>
<line x1="770.00" y1="868" x2="770.00" y2="874.50" stroke="#111" stroke-width="1.3"/>
<text x="764.84" y="895.30" font-family="'Liberation Sans',sans-serif" font-size="19.00" textLength="10.25" lengthAdjust="spacingAndGlyphs" fill="#111">0</text>
<line x1="872.94" y1="868" x2="872.94" y2="874.50" stroke="#111" stroke-width="1.3"/>
<text x="857.18" y="895.30" font-family="'Liberation Sans',sans-serif" font-size="19.00" textLength="30.75" lengthAdjust="spacingAndGlyphs" fill="#111">100</text>
<line x1="975.88" y1="868" x2="975.88" y2="874.50" stroke="#111" stroke-width="1.3"/>
<text x="960.40" y="895.30" font-family="'Liberation Sans',sans-serif" font-size="19.00" textLength="30.75" lengthAdjust="spacingAndGlyphs" fill="#111">200</text>
<line x1="1078.82" y1="868" x2="1078.82" y2="874.50" stroke="#111" stroke-width="1.3"/>
<text x="1063.43" y="895.30" font-family="'Liberation Sans',sans-serif" font-size="19.00" textLength="30.75" lengthAdjust="spacingAndGlyphs" fill="#111">300</text>
<line x1="1181.76" y1="868" x2="1181.76" y2="874.50" stroke="#111" stroke-width="1.3"/>
<text x="1166.56" y="895.30" font-family="'Liberation Sans',sans-serif" font-size="19.00" textLength="30.75" lengthAdjust="spacingAndGlyphs" fill="#111">400</text>
<line x1="1284.70" y1="868" x2="1284.70" y2="874.50" stroke="#111" stroke-width="1.3"/>
<text x="1269.31" y="895.30" font-family="'Liberation Sans',sans-serif" font-size="19.00" textLength="30.75" lengthAdjust="spacingAndGlyphs" fill="#111">500</text>
<line x1="738.10" y1="810.50" x2="744.6" y2="810.50" stroke="#111" stroke-width="1.3"/>
<text x="689.42" y="817.05" font-family="'Liberation Sans',sans-serif" font-size="19.00" textLength="41.00" lengthAdjust="spacingAndGlyphs" fill="#111">1620</text>
<line x1="738.10" y1="750.45" x2="744.6" y2="750.45" stroke="#111" stroke-width="1.3"/>
<text x="689.42" y="757.00" font-family="'Liberation Sans',sans-serif" font-size="19.00" textLength="41.00" lengthAdjust="spacingAndGlyphs" fill="#111">1630</text>
<line x1="738.10" y1="690.40" x2="744.6" y2="690.40" stroke="#111" stroke-width="1.3"/>
<text x="689.42" y="696.95" font-family="'Liberation Sans',sans-serif" font-size="19.00" textLength="41.00" lengthAdjust="spacingAndGlyphs" fill="#111">1640</text>
<line x1="738.10" y1="630.35" x2="744.6" y2="630.35" stroke="#111" stroke-width="1.3"/>
<text x="689.42" y="636.90" font-family="'Liberation Sans',sans-serif" font-size="19.00" textLength="41.00" lengthAdjust="spacingAndGlyphs" fill="#111">1650</text>
<line x1="738.10" y1="570.30" x2="744.6" y2="570.30" stroke="#111" stroke-width="1.3"/>
<text x="689.42" y="576.85" font-family="'Liberation Sans',sans-serif" font-size="19.00" textLength="41.00" lengthAdjust="spacingAndGlyphs" fill="#111">1660</text>
<rect x="749.1" y="535.4" width="235.10000000000002" height="59.0" rx="3.5" ry="3.5" fill="#fff" fill-opacity="0.8" stroke="#cccccc" stroke-width="1.5"/>
<line x1="756.50" y1="550.7" x2="795.70" y2="550.7" stroke="#1f6aa5" stroke-width="1.8" stroke-dasharray="2 2.55"/>
<line x1="755.80" y1="577.7" x2="798.10" y2="577.7" stroke="#ff7f0e" stroke-width="2"/>
<text x="814.29" y="557.70" font-family="'IPAGothic','Noto Sans CJK JP',sans-serif" font-size="18.00" textLength="101.43" lengthAdjust="spacingAndGlyphs" fill="#111" stroke="#111" stroke-width="0.25">True value</text>
<text x="813.67" y="584.90" font-family="'IPAGothic','Noto Sans CJK JP',sans-serif" font-size="18.00" textLength="163.15" lengthAdjust="spacingAndGlyphs" fill="#111" stroke="#111" stroke-width="0.25">Predictive value</text>
<text x="866.90" y="517.40" font-family="'IPAGothic','Noto Sans CJK JP',sans-serif" font-size="22.00" textLength="230.82" lengthAdjust="spacingAndGlyphs" fill="#111" stroke="#111" stroke-width="0.25">Prediction accuracy</text>
<text x="1089.67" y="517.40" font-family="'IPAGothic','Noto Sans CJK JP',sans-serif" font-size="22.00" textLength="29.17" lengthAdjust="spacingAndGlyphs" fill="#111" stroke="#111" stroke-width="0.25">：</text>
<text x="1114.97" y="517.40" font-family="'Liberation Serif',serif" font-size="24.80" textLength="76.15" lengthAdjust="spacingAndGlyphs" fill="#111">76.60%</text>
<text x="987.98" y="916.60" font-family="'IPAGothic','Noto Sans CJK JP',sans-serif" font-size="17.60" textLength="92.05" lengthAdjust="spacingAndGlyphs" fill="#111" stroke="#111" stroke-width="0.25">Sample No</text>
<text transform="translate(676.00,739.40) rotate(-90)" x="0" y="0" font-family="'Liberation Sans',sans-serif" font-size="19.50" textLength="112.18" lengthAdjust="spacingAndGlyphs" fill="#111">Temperature</text>
<text x="994.39" y="960.80" font-family="'Liberation Serif',serif" font-size="19.70" textLength="22.52" lengthAdjust="spacingAndGlyphs" fill="#111">(e)</text>
<clipPath id="clipf"><rect x="1421.4" y="529" width="564.5" height="336.29999999999995"/></clipPath>
<g clip-path="url(#clipf)">
<polyline points="1446.8,736.9 1447.8,724.9 1448.9,728.6 1449.9,782.4 1450.9,793.1 1451.9,718.2 1453.0,751.6 1454.0,743.4 1455.0,783.3 1456.1,841.1 1457.1,726.8 1458.1,724.8 1459.1,562.1 1460.2,841.1 1461.2,771.0 1462.2,713.2 1463.3,765.6 1464.3,841.1 1465.3,771.3 1466.3,732.0 1467.4,718.6 1468.4,760.5 1469.4,775.1 1470.4,764.8 1471.5,846.5 1472.5,841.1 1473.5,723.4 1474.6,763.8 1475.6,846.5 1476.6,782.7 1477.6,817.0 1478.7,760.1 1479.7,793.1 1480.7,714.8 1481.8,568.1 1482.8,715.6 1483.8,760.9 1484.8,726.2 1485.9,728.0 1486.9,841.1 1487.9,778.5 1489.0,737.8 1490.0,762.0 1491.0,841.1 1492.0,763.7 1493.1,779.3 1494.1,846.5 1495.1,808.7 1496.2,744.3 1497.2,769.2 1498.2,722.9 1499.2,841.1 1500.3,782.1 1501.3,722.1 1502.3,729.1 1503.4,793.1 1504.4,777.6 1505.4,774.9 1506.4,765.2 1507.5,841.1 1508.5,713.5 1509.5,749.7 1510.5,750.7 1511.6,757.2 1512.6,846.5 1513.6,714.5 1514.7,748.2 1515.7,778.7 1516.7,725.8 1517.7,793.1 1518.8,662.4 1519.8,712.4 1520.8,694.2 1521.9,721.0 1522.9,780.7 1523.9,580.1 1524.9,647.9 1526.0,824.3 1527.0,586.1 1528.0,642.0 1529.1,632.7 1530.1,735.1 1531.1,580.1 1532.1,802.1 1533.2,676.7 1534.2,670.9 1535.2,808.6 1536.3,700.6 1537.3,611.1 1538.3,618.5 1539.3,716.8 1540.4,835.7 1541.4,672.2 1542.4,790.9 1543.5,721.1 1544.5,826.1 1545.5,741.4 1546.5,676.1 1547.6,703.0 1548.6,709.6 1549.6,678.4 1550.6,672.2 1551.7,604.1 1552.7,671.3 1553.7,580.1 1554.8,838.1 1555.8,707.7 1556.8,673.7 1557.8,690.0 1558.9,629.7 1559.9,693.6 1560.9,826.1 1562.0,781.8 1563.0,720.1 1564.0,723.2 1565.0,629.2 1566.1,580.1 1567.1,655.4 1568.1,716.5 1569.2,716.9 1570.2,709.1 1571.2,744.9 1572.2,790.1 1573.3,622.1 1574.3,675.7 1575.3,691.9 1576.4,704.7 1577.4,598.0 1578.4,660.5 1579.4,610.7 1580.5,691.9 1581.5,711.6 1582.5,647.0 1583.6,646.0 1584.6,744.1 1585.6,597.8 1586.6,586.1 1587.7,657.5 1588.7,635.3 1589.7,700.1 1590.7,580.1 1591.8,738.3 1592.8,653.6 1593.8,697.2 1594.9,688.2 1595.9,739.3 1596.9,666.2 1597.9,676.1 1599.0,676.4 1600.0,610.1 1601.0,704.2 1602.1,656.0 1603.1,661.1 1604.1,670.1 1605.1,688.6 1606.2,622.7 1607.2,827.9 1608.2,580.1 1609.3,643.6 1610.3,705.0 1611.3,666.8 1612.3,728.7 1613.4,604.1 1614.4,680.0 1615.4,651.7 1616.5,596.1 1617.5,611.2 1618.5,580.1 1619.5,689.2 1620.6,725.2 1621.6,636.4 1622.6,842.9 1623.7,594.8 1624.7,701.4 1625.7,640.1 1626.7,728.5 1627.8,657.9 1628.8,803.5 1629.8,732.0 1630.8,701.1 1631.9,710.3 1632.9,722.9 1633.9,629.3 1635.0,580.1 1636.0,608.4 1637.0,624.3 1638.0,729.2 1639.1,619.3 1640.1,618.9 1641.1,626.7 1642.2,625.6 1643.2,827.9 1644.2,580.1 1645.2,630.3 1646.3,781.2 1647.3,682.5 1648.3,661.6 1649.4,705.2 1650.4,714.1 1651.4,727.8 1652.4,704.2 1653.5,832.1 1654.5,604.1 1655.5,731.1 1656.6,696.7 1657.6,703.5 1658.6,631.7 1659.6,666.7 1660.7,656.8 1661.7,651.6 1662.7,622.0 1663.8,610.1 1664.8,728.2 1665.8,731.6 1666.8,697.4 1667.9,661.2 1668.9,607.1 1669.9,637.6 1670.9,574.1 1672.0,685.7 1673.0,721.8 1674.0,683.4 1675.1,563.9 1676.1,601.0 1677.1,688.7 1678.1,729.3 1679.2,631.4 1680.2,704.6 1681.2,695.7 1682.3,696.1 1683.3,635.2 1684.3,690.1 1685.3,807.9 1686.4,721.8 1687.4,839.3 1688.4,651.1 1689.5,615.5 1690.5,662.0 1691.5,797.6 1692.5,691.3 1693.6,689.2 1694.6,626.2 1695.6,829.7 1696.7,660.6 1697.7,623.0 1698.7,568.1 1699.7,699.0 1700.8,646.4 1701.8,651.2 1702.8,649.2 1703.8,657.8 1704.9,628.0 1705.9,621.4 1706.9,711.2 1708.0,626.4 1709.0,717.7 1710.0,839.3 1711.0,707.3 1712.1,655.6 1713.1,654.3 1714.1,800.9 1715.2,552.5 1716.2,683.3 1717.2,565.1 1718.2,634.6 1719.3,662.1 1720.3,708.3 1721.3,616.8 1722.4,632.5 1723.4,630.9 1724.4,703.9 1725.4,675.3 1726.5,710.7 1727.5,654.9 1728.5,568.1 1729.6,644.0 1730.6,635.2 1731.6,718.7 1732.6,776.3 1733.7,716.6 1734.7,568.1 1735.7,687.2 1736.8,603.6 1737.8,617.1 1738.8,689.4 1739.8,573.5 1740.9,645.3 1741.9,695.7 1742.9,666.5 1743.9,627.1 1745.0,715.3 1746.0,663.3 1747.0,715.7 1748.1,723.6 1749.1,722.6 1750.1,629.6 1751.1,618.4 1752.2,716.3 1753.2,621.2 1754.2,571.1 1755.3,625.0 1756.3,764.7 1757.3,560.9 1758.3,623.8 1759.4,639.2 1760.4,636.7 1761.4,571.1 1762.5,835.7 1763.5,648.5 1764.5,677.0 1765.5,625.5 1766.6,722.4 1767.6,581.3 1768.6,631.2 1769.7,789.5 1770.7,687.3 1771.7,666.7 1772.7,715.9 1773.8,687.1 1774.8,842.9 1775.8,659.8 1776.9,641.7 1777.9,764.6 1778.9,682.0 1779.9,802.7 1781.0,720.6 1782.0,722.2 1783.0,649.8 1784.0,664.9 1785.1,620.7 1786.1,618.6 1787.1,844.7 1788.2,623.0 1789.2,631.9 1790.2,671.4 1791.2,623.7 1792.3,835.7 1793.3,697.8 1794.3,699.2 1795.4,685.6 1796.4,550.1 1797.4,625.5 1798.4,559.1 1799.5,723.2 1800.5,611.8 1801.5,713.3 1802.6,654.6 1803.6,713.9 1804.6,848.3 1805.6,650.4 1806.7,717.8 1807.7,713.0 1808.7,840.5 1809.8,667.1 1810.8,709.7 1811.8,623.2 1812.8,565.1 1813.9,650.2 1814.9,672.0 1815.9,659.2 1817.0,799.1 1818.0,625.2 1819.0,681.9 1820.0,695.9 1821.1,689.1 1822.1,565.1 1823.1,713.4 1824.1,714.7 1825.2,658.1 1826.2,686.1 1827.2,699.3 1828.3,715.3 1829.3,625.6 1830.3,826.1 1831.3,620.1 1832.4,779.4 1833.4,696.3 1834.4,622.2 1835.5,614.3 1836.5,716.5 1837.5,679.6 1838.5,552.5 1839.6,667.2 1840.6,562.1 1841.6,633.8 1842.7,719.2 1843.7,678.9 1844.7,670.0 1845.7,574.1 1846.8,793.1 1847.8,592.2 1848.8,618.7 1849.9,653.7 1850.9,556.1 1851.9,605.5 1852.9,712.8 1854.0,657.0 1855.0,627.7 1856.0,691.7 1857.1,681.8 1858.1,712.3 1859.1,752.2 1860.1,800.9 1861.2,583.1 1862.2,691.0 1863.2,643.7 1864.2,602.1 1865.3,614.4 1866.3,674.0 1867.3,618.4 1868.4,568.7 1869.4,837.5 1870.4,723.2 1871.4,640.5 1872.5,694.6 1873.5,656.4 1874.5,646.4 1875.6,639.4 1876.6,563.9 1877.6,679.5 1878.6,762.8 1879.7,638.0 1880.7,654.3 1881.7,756.4 1882.8,623.8 1883.8,629.5 1884.8,723.8 1885.8,642.0 1886.9,620.3 1887.9,703.7 1888.9,580.1 1890.0,638.0 1891.0,646.7 1892.0,623.7 1893.0,649.2 1894.1,840.5 1895.1,692.3 1896.1,637.8 1897.2,611.0 1898.2,844.7 1899.2,557.3 1900.2,780.5 1901.3,619.9 1902.3,623.0 1903.3,723.5 1904.3,799.1 1905.4,677.9 1906.4,663.9 1907.4,544.1 1908.5,614.3 1909.5,545.3 1910.5,715.5 1911.5,693.1 1912.6,694.3 1913.6,546.5 1914.6,615.5 1915.7,675.3 1916.7,607.7 1917.7,559.7 1918.7,623.5 1919.8,621.1 1920.8,704.5 1921.8,715.1 1922.9,557.3 1923.9,718.8 1924.9,699.0 1925.9,690.3 1927.0,791.3 1928.0,553.1 1929.0,712.0 1930.1,694.6 1931.1,657.1 1932.1,558.5 1933.1,610.0 1934.2,618.2 1935.2,709.1 1936.2,668.0 1937.3,653.7 1938.3,674.6 1939.3,563.9 1940.3,636.4 1941.4,685.4 1942.4,712.1 1943.4,677.0 1944.4,568.1 1945.5,699.9 1946.5,654.4 1947.5,720.9 1948.6,701.0 1949.6,669.2 1950.6,694.6 1951.6,580.1 1952.7,629.3 1953.7,617.1 1954.7,811.3 1955.8,706.2 1956.8,592.3 1957.8,640.8 1958.8,636.5 1959.9,592.1" fill="none" stroke="#3f88c8" stroke-opacity="0.8" stroke-width="1.7" stroke-dasharray="1.8 2.6" stroke-linecap="butt"/>
<polyline points="1446.8,774.7 1447.8,781.2 1448.9,778.7 1449.9,748.4 1450.9,746.6 1451.9,749.1 1453.0,779.8 1454.0,755.1 1455.0,743.2 1456.1,787.4 1457.1,784.5 1458.1,746.4 1459.1,742.9 1460.2,792.7 1461.2,775.1 1462.2,783.9 1463.3,745.7 1464.3,786.0 1465.3,736.4 1466.3,754.4 1467.4,798.6 1468.4,786.9 1469.4,744.4 1470.4,784.4 1471.5,789.2 1472.5,786.4 1473.5,743.1 1474.6,808.1 1475.6,790.1 1476.6,780.2 1477.6,773.3 1478.7,760.8 1479.7,755.5 1480.7,775.2 1481.8,781.0 1482.8,688.1 1483.8,760.0 1484.8,785.6 1485.9,784.9 1486.9,766.1 1487.9,750.6 1489.0,754.0 1490.0,764.8 1491.0,756.9 1492.0,753.6 1493.1,799.0 1494.1,797.3 1495.1,783.0 1496.2,794.8 1497.2,768.2 1498.2,762.8 1499.2,790.0 1500.3,791.9 1501.3,760.9 1502.3,790.2 1503.4,784.0 1504.4,794.4 1505.4,758.9 1506.4,759.9 1507.5,765.8 1508.5,761.3 1509.5,792.7 1510.5,794.7 1511.6,783.2 1512.6,773.7 1513.6,780.5 1514.7,744.6 1515.7,743.0 1516.7,729.4 1517.7,717.9 1518.8,733.1 1519.8,752.2 1520.8,704.4 1521.9,688.2 1522.9,684.7 1523.9,745.3 1524.9,736.4 1526.0,752.2 1527.0,758.3 1528.0,757.2 1529.1,764.3 1530.1,765.8 1531.1,732.3 1532.1,717.9 1533.2,751.5 1534.2,738.6 1535.2,769.0 1536.3,664.3 1537.3,783.8 1538.3,650.6 1539.3,652.2 1540.4,732.6 1541.4,637.8 1542.4,700.3 1543.5,781.4 1544.5,717.8 1545.5,743.2 1546.5,785.7 1547.6,774.6 1548.6,765.9 1549.6,780.5 1550.6,766.7 1551.7,647.0 1552.7,758.7 1553.7,763.9 1554.8,778.5 1555.8,694.5 1556.8,799.6 1557.8,744.9 1558.9,629.4 1559.9,783.4 1560.9,651.0 1562.0,774.3 1563.0,698.6 1564.0,775.1 1565.0,756.5 1566.1,639.2 1567.1,776.8 1568.1,778.9 1569.2,762.6 1570.2,648.6 1571.2,760.4 1572.2,740.0 1573.3,638.9 1574.3,683.9 1575.3,681.0 1576.4,758.0 1577.4,780.4 1578.4,768.3 1579.4,656.2 1580.5,747.7 1581.5,754.8 1582.5,705.0 1583.6,701.4 1584.6,772.9 1585.6,699.3 1586.6,661.7 1587.7,677.9 1588.7,699.2 1589.7,655.3 1590.7,780.1 1591.8,661.8 1592.8,780.1 1593.8,653.0 1594.9,764.8 1595.9,772.7 1596.9,651.8 1597.9,787.1 1599.0,671.6 1600.0,680.4 1601.0,752.5 1602.1,759.5 1603.1,762.9 1604.1,656.7 1605.1,753.5 1606.2,765.9 1607.2,677.5 1608.2,752.3 1609.3,664.3 1610.3,660.4 1611.3,758.2 1612.3,764.7 1613.4,778.1 1614.4,681.7 1615.4,743.9 1616.5,807.2 1617.5,796.5 1618.5,802.9 1619.5,659.3 1620.6,788.7 1621.6,759.5 1622.6,786.9 1623.7,676.0 1624.7,670.6 1625.7,714.5 1626.7,762.8 1627.8,694.9 1628.8,654.8 1629.8,770.9 1630.8,762.9 1631.9,762.8 1632.9,634.2 1633.9,654.8 1635.0,760.2 1636.0,766.4 1637.0,783.4 1638.0,663.0 1639.1,686.1 1640.1,652.7 1641.1,634.8 1642.2,764.3 1643.2,752.2 1644.2,771.6 1645.2,775.1 1646.3,692.3 1647.3,778.5 1648.3,746.3 1649.4,694.4 1650.4,631.6 1651.4,679.5 1652.4,634.9 1653.5,684.7 1654.5,672.3 1655.5,745.9 1656.6,661.1 1657.6,687.5 1658.6,645.9 1659.6,789.2 1660.7,726.6 1661.7,656.5 1662.7,754.1 1663.8,638.9 1664.8,696.4 1665.8,749.8 1666.8,659.6 1667.9,766.5 1668.9,641.6 1669.9,770.5 1670.9,760.8 1672.0,678.0 1673.0,747.4 1674.0,636.4 1675.1,768.6 1676.1,633.6 1677.1,804.3 1678.1,645.5 1679.2,780.2 1680.2,621.8 1681.2,667.7 1682.3,782.9 1683.3,738.6 1684.3,650.6 1685.3,797.1 1686.4,785.2 1687.4,784.5 1688.4,792.5 1689.5,685.8 1690.5,655.8 1691.5,798.0 1692.5,652.6 1693.6,680.4 1694.6,748.1 1695.6,658.0 1696.7,670.4 1697.7,614.5 1698.7,638.0 1699.7,662.4 1700.8,634.9 1701.8,782.8 1702.8,655.5 1703.8,688.3 1704.9,639.0 1705.9,733.8 1706.9,646.0 1708.0,782.5 1709.0,748.0 1710.0,782.8 1711.0,765.3 1712.1,620.9 1713.1,737.1 1714.1,648.5 1715.2,626.3 1716.2,771.4 1717.2,731.4 1718.2,683.4 1719.3,752.4 1720.3,685.1 1721.3,788.4 1722.4,609.5 1723.4,743.0 1724.4,672.5 1725.4,650.4 1726.5,766.3 1727.5,622.1 1728.5,762.6 1729.6,627.6 1730.6,674.3 1731.6,653.6 1732.6,639.6 1733.7,793.5 1734.7,786.2 1735.7,619.3 1736.8,766.9 1737.8,753.6 1738.8,654.4 1739.8,616.8 1740.9,780.0 1741.9,674.3 1742.9,651.0 1743.9,633.9 1745.0,739.5 1746.0,788.2 1747.0,636.2 1748.1,719.9 1749.1,771.1 1750.1,762.3 1751.1,666.5 1752.2,624.4 1753.2,739.7 1754.2,770.9 1755.3,794.7 1756.3,736.3 1757.3,704.2 1758.3,648.2 1759.4,795.2 1760.4,771.5 1761.4,760.3 1762.5,690.7 1763.5,649.7 1764.5,610.6 1765.5,668.4 1766.6,797.0 1767.6,789.1 1768.6,665.1 1769.7,599.4 1770.7,796.3 1771.7,796.3 1772.7,672.5 1773.8,631.7 1774.8,789.7 1775.8,781.2 1776.9,761.3 1777.9,619.4 1778.9,643.7 1779.9,670.4 1781.0,782.5 1782.0,665.0 1783.0,653.7 1784.0,642.7 1785.1,806.9 1786.1,632.0 1787.1,613.6 1788.2,749.6 1789.2,778.0 1790.2,614.4 1791.2,598.0 1792.3,642.7 1793.3,623.4 1794.3,607.6 1795.4,759.4 1796.4,622.4 1797.4,775.5 1798.4,597.6 1799.5,657.3 1800.5,782.4 1801.5,786.3 1802.6,777.1 1803.6,795.4 1804.6,644.7 1805.6,798.1 1806.7,749.1 1807.7,612.3 1808.7,657.6 1809.8,640.1 1810.8,772.6 1811.8,597.4 1812.8,587.2 1813.9,638.9 1814.9,768.9 1815.9,618.5 1817.0,727.1 1818.0,761.6 1819.0,709.3 1820.0,728.7 1821.1,590.7 1822.1,651.1 1823.1,618.6 1824.1,630.6 1825.2,608.2 1826.2,592.0 1827.2,662.1 1828.3,642.2 1829.3,654.9 1830.3,614.9 1831.3,776.7 1832.4,774.9 1833.4,755.9 1834.4,594.5 1835.5,588.9 1836.5,629.8 1837.5,770.8 1838.5,615.0 1839.6,805.7 1840.6,615.1 1841.6,774.8 1842.7,728.6 1843.7,601.3 1844.7,772.8 1845.7,625.6 1846.8,604.3 1847.8,611.9 1848.8,592.3 1849.9,615.3 1850.9,604.3 1851.9,618.4 1852.9,769.1 1854.0,779.0 1855.0,590.3 1856.0,653.9 1857.1,615.9 1858.1,609.8 1859.1,643.4 1860.1,804.2 1861.2,626.3 1862.2,631.2 1863.2,588.1 1864.2,618.9 1865.3,775.5 1866.3,609.8 1867.3,739.0 1868.4,636.1 1869.4,654.5 1870.4,764.4 1871.4,597.4 1872.5,612.3 1873.5,722.3 1874.5,650.9 1875.6,656.4 1876.6,739.3 1877.6,624.8 1878.6,623.7 1879.7,725.4 1880.7,650.8 1881.7,586.6 1882.8,605.4 1883.8,590.6 1884.8,630.5 1885.8,645.2 1886.9,622.2 1887.9,742.5 1888.9,607.9 1890.0,793.7 1891.0,654.1 1892.0,647.3 1893.0,598.5 1894.1,724.5 1895.1,729.9 1896.1,601.3 1897.2,577.9 1898.2,629.4 1899.2,660.7 1900.2,767.4 1901.3,635.9 1902.3,600.3 1903.3,667.0 1904.3,762.2 1905.4,612.8 1906.4,599.7 1907.4,615.5 1908.5,617.6 1909.5,626.5 1910.5,633.9 1911.5,696.6 1912.6,611.7 1913.6,635.1 1914.6,614.4 1915.7,594.9 1916.7,605.5 1917.7,667.3 1918.7,754.5 1919.8,626.0 1920.8,755.8 1921.8,639.0 1922.9,632.5 1923.9,643.7 1924.9,725.1 1925.9,783.7 1927.0,615.5 1928.0,634.3 1929.0,592.7 1930.1,765.4 1931.1,741.7 1932.1,602.2 1933.1,750.9 1934.2,773.1 1935.2,655.4 1936.2,604.2 1937.3,653.1 1938.3,623.6 1939.3,730.0 1940.3,773.1 1941.4,705.4 1942.4,647.1 1943.4,622.3 1944.4,777.9 1945.5,585.6 1946.5,630.3 1947.5,715.8 1948.6,556.6 1949.6,714.8 1950.6,570.5 1951.6,774.1 1952.7,572.5 1953.7,621.7 1954.7,759.7 1955.8,747.7 1956.8,702.1 1957.8,598.8 1958.8,732.7 1959.9,779.1" fill="none" stroke="#fb8022" stroke-width="2.0" stroke-linejoin="round"/>
</g>
<rect x="1421.4" y="529" width="564.5" height="336.29999999999995" fill="none" stroke="#111" stroke-width="1.4"/>
<line x1="1446.80" y1="865.3" x2="1446.80" y2="871.80" stroke="#111" stroke-width="1.3"/>
<text x="1441.64" y="893.40" font-family="'Liberation Sans',sans-serif" font-size="19.00" textLength="10.25" lengthAdjust="spacingAndGlyphs" fill="#111">0</text>
<line x1="1549.62" y1="865.3" x2="1549.62" y2="871.80" stroke="#111" stroke-width="1.3"/>
<text x="1533.86" y="893.40" font-family="'Liberation Sans',sans-serif" font-size="19.00" textLength="30.75" lengthAdjust="spacingAndGlyphs" fill="#111">100</text>
<line x1="1652.44" y1="865.3" x2="1652.44" y2="871.80" stroke="#111" stroke-width="1.3"/>
<text x="1636.96" y="893.40" font-family="'Liberation Sans',sans-serif" font-size="19.00" textLength="30.75" lengthAdjust="spacingAndGlyphs" fill="#111">200</text>
<line x1="1755.26" y1="865.3" x2="1755.26" y2="871.80" stroke="#111" stroke-width="1.3"/>
<text x="1739.87" y="893.40" font-family="'Liberation Sans',sans-serif" font-size="19.00" textLength="30.75" lengthAdjust="spacingAndGlyphs" fill="#111">300</text>
<line x1="1858.08" y1="865.3" x2="1858.08" y2="871.80" stroke="#111" stroke-width="1.3"/>
<text x="1842.88" y="893.40" font-family="'Liberation Sans',sans-serif" font-size="19.00" textLength="30.75" lengthAdjust="spacingAndGlyphs" fill="#111">400</text>
<line x1="1960.90" y1="865.3" x2="1960.90" y2="871.80" stroke="#111" stroke-width="1.3"/>
<text x="1945.51" y="893.40" font-family="'Liberation Sans',sans-serif" font-size="19.00" textLength="30.75" lengthAdjust="spacingAndGlyphs" fill="#111">500</text>
<line x1="1414.90" y1="808.10" x2="1421.4" y2="808.10" stroke="#111" stroke-width="1.3"/>
<text x="1366.12" y="814.65" font-family="'Liberation Sans',sans-serif" font-size="19.00" textLength="41.00" lengthAdjust="spacingAndGlyphs" fill="#111">1620</text>
<line x1="1414.90" y1="748.10" x2="1421.4" y2="748.10" stroke="#111" stroke-width="1.3"/>
<text x="1366.12" y="754.65" font-family="'Liberation Sans',sans-serif" font-size="19.00" textLength="41.00" lengthAdjust="spacingAndGlyphs" fill="#111">1630</text>
<line x1="1414.90" y1="688.10" x2="1421.4" y2="688.10" stroke="#111" stroke-width="1.3"/>
<text x="1366.12" y="694.65" font-family="'Liberation Sans',sans-serif" font-size="19.00" textLength="41.00" lengthAdjust="spacingAndGlyphs" fill="#111">1640</text>
<line x1="1414.90" y1="628.10" x2="1421.4" y2="628.10" stroke="#111" stroke-width="1.3"/>
<text x="1366.12" y="634.65" font-family="'Liberation Sans',sans-serif" font-size="19.00" textLength="41.00" lengthAdjust="spacingAndGlyphs" fill="#111">1650</text>
<line x1="1414.90" y1="568.10" x2="1421.4" y2="568.10" stroke="#111" stroke-width="1.3"/>
<text x="1366.12" y="574.65" font-family="'Liberation Sans',sans-serif" font-size="19.00" textLength="41.00" lengthAdjust="spacingAndGlyphs" fill="#111">1660</text>
<rect x="1431.5" y="538.9" width="234.20000000000005" height="59.5" rx="3.5" ry="3.5" fill="#fff" fill-opacity="0.8" stroke="#cccccc" stroke-width="1.5"/>
<line x1="1439.30" y1="554.1" x2="1478.50" y2="554.1" stroke="#1f6aa5" stroke-width="1.8" stroke-dasharray="2 2.55"/>
<line x1="1438.60" y1="580.9" x2="1480.90" y2="580.9" stroke="#ff7f0e" stroke-width="2"/>
<text x="1495.79" y="560.70" font-family="'IPAGothic','Noto Sans CJK JP',sans-serif" font-size="18.00" textLength="101.43" lengthAdjust="spacingAndGlyphs" fill="#111" stroke="#111" stroke-width="0.25">True value</text>
<text x="1495.17" y="587.90" font-family="'IPAGothic','Noto Sans CJK JP',sans-serif" font-size="18.00" textLength="163.25" lengthAdjust="spacingAndGlyphs" fill="#111" stroke="#111" stroke-width="0.25">Predictive value</text>
<text x="1532.79" y="516.30" font-family="'IPAGothic','Noto Sans CJK JP',sans-serif" font-size="22.00" textLength="231.42" lengthAdjust="spacingAndGlyphs" fill="#111" stroke="#111" stroke-width="0.25">Prediction accuracy</text>
<text x="1763.32" y="516.30" font-family="'IPAGothic','Noto Sans CJK JP',sans-serif" font-size="22.00" textLength="14.17" lengthAdjust="spacingAndGlyphs" fill="#111" stroke="#111" stroke-width="0.25">:</text>
<text y="516.50" fill="#111" font-size="23.20"><tspan x="1787.45 1797.86 1813.20 1824.10 1836.90" font-family="'Liberation Sans',sans-serif">91.60</tspan><tspan x="1849.80" font-family="'IPAGothic','Noto Sans CJK JP',sans-serif" font-size="22.00" stroke="#111" stroke-width="0.25">%</tspan></text>
<text x="1657.58" y="917.80" font-family="'IPAGothic','Noto Sans CJK JP',sans-serif" font-size="17.60" textLength="92.15" lengthAdjust="spacingAndGlyphs" fill="#111" stroke="#111" stroke-width="0.25">Sample No</text>
<text transform="translate(1355.60,757.60) rotate(-90)" x="0" y="0" font-family="'Liberation Sans',sans-serif" font-size="19.50" textLength="111.37" lengthAdjust="spacingAndGlyphs" fill="#111">Temperature</text>
<text x="1666.76" y="959.90" font-family="'Liberation Serif',serif" font-size="19.60" textLength="20.86" lengthAdjust="spacingAndGlyphs" fill="#111">(f)</text>
</svg></body></html>
